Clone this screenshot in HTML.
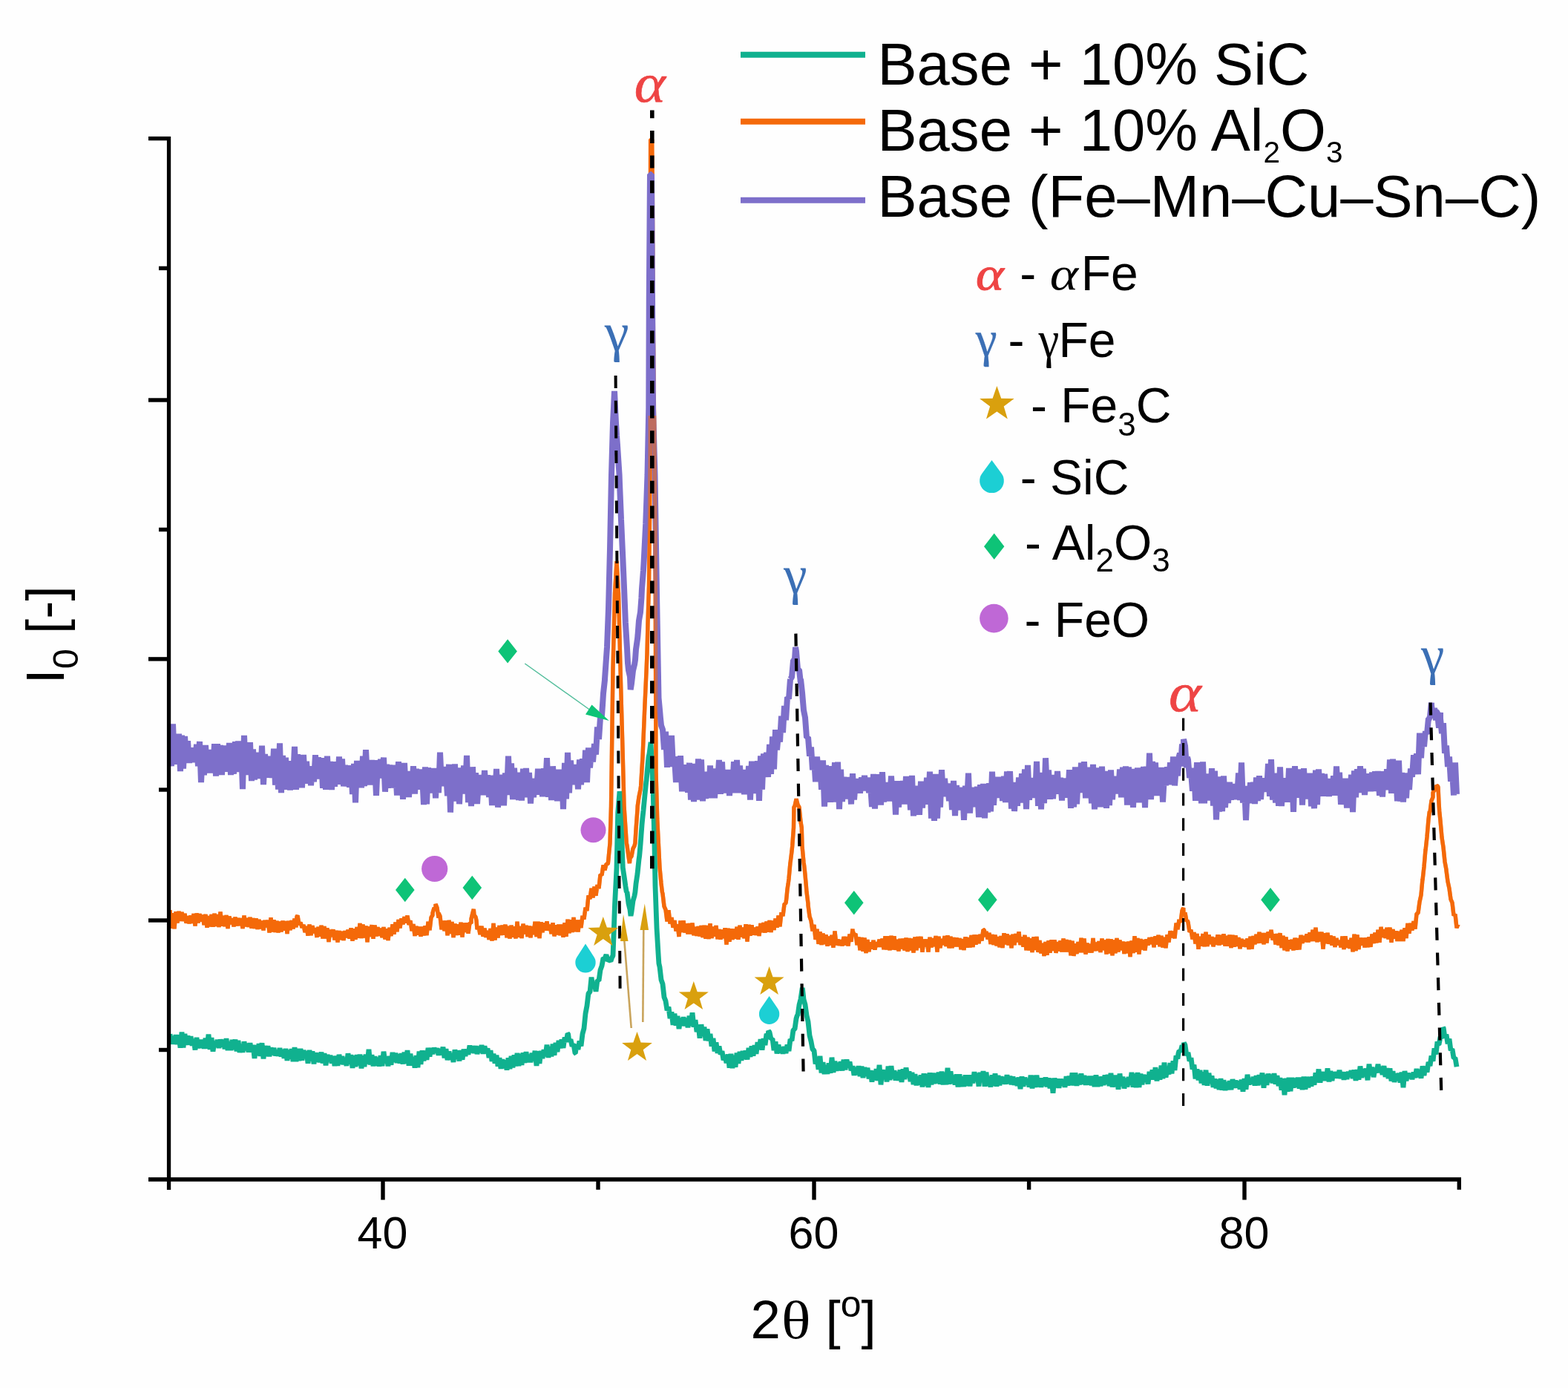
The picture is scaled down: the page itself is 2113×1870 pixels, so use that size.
<!DOCTYPE html>
<html><head><meta charset="utf-8"><title>XRD patterns</title>
<style>html,body{margin:0;padding:0;background:#fefefe;overflow:hidden}svg{display:block}text{font-family:"Liberation Sans",sans-serif;fill:#000}.ser{font-family:"Liberation Serif",serif}</style>
</head><body>
<svg width="2113" height="1870" viewBox="0 0 2113 1870">
<rect width="2113" height="1870" fill="#fefefe"/>
<g fill="none" stroke-linejoin="bevel" stroke-linecap="butt">
<path d="M229.0,1226.1 L231.0,1250.7 L233.0,1230.2 L235.0,1251.2 L237.0,1228.2 L239.0,1243.4 L241.0,1227.9 L243.0,1240.7 L245.0,1229.0 L247.0,1240.9 L249.0,1230.8 L251.0,1243.7 L253.0,1234.4 L255.0,1244.3 L257.0,1233.6 L259.0,1243.6 L261.0,1231.1 L263.0,1247.5 L265.0,1230.5 L267.0,1243.4 L269.0,1231.2 L271.0,1241.3 L273.0,1232.7 L275.0,1246.0 L277.0,1232.0 L279.0,1249.7 L281.0,1234.2 L283.0,1248.4 L285.0,1232.0 L287.0,1248.7 L289.0,1230.9 L291.0,1247.8 L293.0,1232.0 L295.0,1248.9 L297.0,1228.6 L299.0,1247.7 L301.0,1233.8 L303.0,1248.2 L305.0,1233.1 L307.0,1250.9 L309.0,1234.5 L311.0,1245.0 L313.0,1237.3 L315.0,1248.3 L317.0,1235.6 L319.0,1247.2 L321.0,1237.0 L323.0,1246.9 L325.0,1237.2 L327.0,1250.9 L329.0,1233.5 L331.0,1248.2 L333.0,1237.0 L335.0,1248.8 L337.0,1235.9 L339.0,1250.7 L341.0,1237.2 L343.0,1250.8 L345.0,1237.4 L347.0,1251.9 L349.0,1238.9 L351.0,1251.3 L353.0,1240.6 L355.0,1253.4 L357.0,1240.0 L359.0,1249.2 L361.0,1239.7 L363.0,1256.4 L365.0,1236.2 L367.0,1255.4 L369.0,1239.4 L371.0,1256.0 L373.0,1240.9 L375.0,1256.4 L377.0,1241.7 L379.0,1255.3 L381.0,1240.6 L383.0,1253.5 L385.0,1241.1 L387.0,1258.0 L389.0,1240.9 L391.0,1253.0 L393.0,1240.2 L395.0,1251.4 L397.0,1237.6 L399.0,1249.4 L400.0,1235.0 L401.0,1233.4 L403.0,1245.7 L405.0,1242.7 L407.0,1249.7 L409.0,1246.0 L411.0,1256.1 L413.0,1247.8 L415.0,1260.5 L417.0,1245.7 L419.0,1260.0 L421.0,1247.2 L423.0,1257.1 L425.0,1250.3 L427.0,1262.7 L429.0,1248.8 L431.0,1261.5 L433.0,1246.9 L435.0,1264.4 L437.0,1248.2 L439.0,1264.3 L441.0,1250.3 L443.0,1268.9 L445.0,1252.5 L447.0,1262.0 L449.0,1252.3 L451.0,1266.3 L453.0,1253.9 L455.0,1269.3 L457.0,1254.2 L459.0,1266.1 L461.0,1255.0 L463.0,1266.9 L465.0,1254.2 L467.0,1263.2 L469.0,1252.7 L471.0,1264.6 L473.0,1250.3 L475.0,1267.7 L477.0,1251.4 L479.0,1265.6 L481.0,1249.2 L483.0,1263.6 L485.0,1244.0 L487.0,1264.0 L489.0,1245.5 L491.0,1263.5 L493.0,1247.5 L495.0,1269.3 L497.0,1248.2 L499.0,1261.9 L501.0,1246.2 L503.0,1264.6 L505.0,1246.5 L507.0,1261.3 L509.0,1249.1 L511.0,1260.6 L513.0,1250.8 L515.0,1263.1 L517.0,1249.2 L519.0,1265.4 L521.0,1251.3 L523.0,1267.0 L525.0,1249.9 L527.0,1261.0 L529.0,1245.4 L531.0,1258.6 L533.0,1242.7 L535.0,1255.1 L537.0,1239.2 L539.0,1250.4 L541.0,1237.4 L543.0,1245.1 L545.0,1235.3 L547.0,1243.4 L549.0,1233.6 L551.0,1245.7 L553.0,1240.3 L555.0,1254.2 L557.0,1245.1 L559.0,1260.9 L561.0,1248.0 L563.0,1259.4 L565.0,1248.7 L567.0,1261.5 L569.0,1248.6 L571.0,1260.3 L573.0,1247.3 L575.0,1260.0 L577.0,1241.8 L579.0,1253.1 L581.0,1236.1 L583.0,1233.1 L583.0,1230.0 L585.0,1223.3 L587.0,1223.7 L587.0,1218.0 L589.0,1223.0 L591.0,1236.5 L591.0,1230.0 L593.0,1234.4 L595.0,1252.3 L597.0,1240.6 L599.0,1254.2 L601.0,1240.5 L603.0,1260.2 L605.0,1239.9 L607.0,1257.8 L609.0,1241.9 L611.0,1262.9 L613.0,1244.6 L615.0,1260.0 L617.0,1245.3 L619.0,1259.6 L621.0,1242.9 L623.0,1262.4 L625.0,1243.6 L627.0,1255.9 L629.0,1243.3 L631.0,1257.6 L633.0,1243.3 L635.0,1243.9 L635.0,1238.0 L637.0,1229.7 L638.3,1225.0 L639.0,1233.0 L641.0,1235.5 L642.0,1240.0 L643.0,1252.1 L645.0,1248.3 L647.0,1259.1 L649.0,1247.8 L651.0,1261.7 L653.0,1250.8 L655.0,1262.7 L657.0,1253.9 L659.0,1265.8 L661.0,1251.1 L663.0,1267.4 L665.0,1244.0 L667.0,1266.4 L669.0,1249.5 L671.0,1263.4 L673.0,1247.0 L675.0,1259.8 L677.0,1246.6 L679.0,1259.5 L681.0,1245.7 L683.0,1263.1 L685.0,1247.7 L687.0,1264.5 L689.0,1246.7 L691.0,1262.5 L693.0,1248.3 L695.0,1264.3 L697.0,1241.8 L699.0,1262.6 L701.0,1248.2 L703.0,1263.9 L705.0,1244.7 L707.0,1258.4 L709.0,1246.9 L711.0,1262.0 L713.0,1247.5 L715.0,1263.1 L717.0,1248.1 L719.0,1259.0 L721.0,1241.8 L723.0,1261.9 L725.0,1241.7 L727.0,1264.0 L729.0,1242.4 L731.0,1256.2 L733.0,1243.3 L735.0,1253.5 L737.0,1241.5 L739.0,1253.6 L741.0,1245.7 L743.0,1258.0 L745.0,1243.3 L747.0,1261.3 L749.0,1246.3 L751.0,1259.4 L753.0,1245.7 L755.0,1260.2 L757.0,1245.5 L759.0,1262.8 L761.0,1243.3 L763.0,1261.8 L765.0,1238.7 L767.0,1257.2 L769.0,1239.2 L771.0,1255.9 L773.0,1236.0 L775.0,1255.1 L777.0,1239.7 L779.0,1255.4 L781.0,1239.7 L783.0,1250.0 L785.0,1233.8 L787.0,1238.4 L789.0,1222.9 L791.0,1226.9 L793.0,1206.4 L795.0,1211.0 L797.0,1196.8 L799.0,1209.3 L801.0,1194.5 L803.0,1206.7 L805.0,1192.0 L807.0,1196.9 L809.0,1178.2 L811.0,1179.1 L813.0,1165.6 L815.0,1172.3 L817.0,1164.1 L819.0,1163.9 L819.4,1163.0 L821.0,1146.1 L822.0,1136.0 L823.0,1102.8 L823.5,1086.0 L824.4,1020.0 L825.0,975.0 L826.0,900.0 L827.0,860.2 L828.5,800.0 L829.0,791.2 L831.0,756.2 L831.0,756.0 L833.0,791.2 L833.5,800.0 L835.0,860.2 L836.0,900.0 L837.0,936.4 L839.0,1009.3 L839.3,1020.0 L841.0,1085.6 L841.0,1086.0 L843.0,1116.4 L844.3,1136.0 L845.0,1139.2 L847.0,1153.8 L848.4,1163.0 L849.0,1156.4 L851.0,1153.7 L853.0,1143.3 L855.0,1139.4 L855.9,1136.0 L857.0,1117.6 L859.0,1090.6 L859.2,1086.0 L861.0,1073.6 L863.0,1063.7 L863.6,1059.0 L865.0,1035.7 L866.0,1020.0 L867.0,996.3 L868.5,960.0 L869.0,948.7 L871.0,905.1 L871.0,905.0 L872.0,880.0 L873.0,839.0 L873.0,839.0 L874.5,789.0 L875.0,744.5 L875.5,700.0 L876.2,600.0 L876.3,400.0 L876.4,250.0 L876.6,188.0 L877.0,188.0 L878.8,188.0 L879.0,212.8 L879.3,250.0 L880.0,400.0 L881.0,506.7 L881.5,560.0 L883.0,700.0 L883.0,700.0 L883.5,880.0 L884.0,1040.0 L885.0,1077.1 L885.7,1103.0 L887.0,1129.1 L889.0,1168.9 L889.0,1169.0 L891.0,1190.1 L892.4,1202.0 L893.0,1204.1 L895.0,1221.1 L897.0,1225.7 L899.0,1241.5 L901.0,1226.4 L903.0,1244.4 L905.0,1236.1 L907.0,1249.6 L909.0,1240.0 L911.0,1254.4 L913.0,1245.4 L915.0,1261.8 L917.0,1240.4 L919.0,1255.8 L921.0,1240.3 L923.0,1256.5 L925.0,1244.4 L927.0,1258.3 L929.0,1244.1 L931.0,1258.5 L933.0,1243.5 L935.0,1260.1 L937.0,1249.0 L939.0,1260.8 L941.0,1248.2 L943.0,1261.4 L945.0,1247.0 L947.0,1262.9 L949.0,1246.8 L951.0,1264.6 L953.0,1247.1 L955.0,1265.0 L957.0,1244.3 L959.0,1264.0 L961.0,1248.5 L963.0,1261.6 L965.0,1247.1 L967.0,1265.2 L969.0,1252.2 L971.0,1265.6 L973.0,1252.6 L975.0,1264.1 L977.0,1250.3 L979.0,1272.5 L981.0,1250.7 L983.0,1268.6 L985.0,1251.4 L987.0,1266.0 L989.0,1251.7 L991.0,1264.5 L993.0,1248.9 L995.0,1265.7 L997.0,1246.8 L999.0,1262.4 L1001.0,1249.7 L1003.0,1264.1 L1005.0,1245.3 L1007.0,1268.4 L1009.0,1245.9 L1011.0,1260.5 L1013.0,1246.3 L1015.0,1259.5 L1017.0,1249.8 L1019.0,1259.7 L1021.0,1248.5 L1023.0,1260.9 L1025.0,1244.0 L1027.0,1256.0 L1029.0,1243.1 L1031.0,1256.5 L1033.0,1241.5 L1035.0,1255.7 L1037.0,1240.1 L1039.0,1255.8 L1041.0,1240.5 L1043.0,1252.8 L1045.0,1237.5 L1047.0,1249.6 L1049.0,1233.5 L1051.0,1248.3 L1053.0,1229.2 L1055.0,1234.1 L1057.0,1218.2 L1059.0,1216.7 L1059.8,1210.7 L1061.0,1198.1 L1062.4,1188.6 L1063.0,1184.1 L1065.0,1161.9 L1065.1,1162.0 L1067.0,1146.7 L1067.7,1140.0 L1069.0,1121.9 L1069.5,1115.0 L1069.9,1087.6 L1071.0,1085.8 L1073.0,1076.8 L1073.1,1076.5 L1075.0,1084.0 L1077.0,1087.6 L1077.0,1087.6 L1079.0,1107.4 L1080.3,1115.0 L1081.0,1139.9 L1081.0,1140.0 L1083.0,1161.8 L1083.7,1166.5 L1085.0,1178.4 L1086.3,1193.0 L1087.0,1201.7 L1089.0,1217.7 L1089.0,1219.6 L1091.0,1234.8 L1093.0,1240.7 L1095.0,1254.4 L1097.0,1245.9 L1099.0,1265.8 L1101.0,1251.7 L1103.0,1271.8 L1105.0,1255.3 L1107.0,1273.0 L1109.0,1257.7 L1111.0,1272.2 L1113.0,1259.3 L1115.0,1274.6 L1117.0,1261.7 L1119.0,1273.4 L1121.0,1259.9 L1123.0,1276.6 L1125.0,1254.6 L1127.0,1273.3 L1129.0,1265.7 L1131.0,1273.7 L1133.0,1266.3 L1135.0,1274.2 L1137.0,1262.1 L1139.0,1273.2 L1141.0,1262.3 L1143.0,1274.3 L1145.0,1258.7 L1147.0,1268.8 L1149.0,1251.5 L1149.0,1254.0 L1151.0,1259.7 L1153.0,1258.1 L1155.0,1273.1 L1157.0,1262.5 L1159.0,1280.1 L1161.0,1263.1 L1163.0,1281.6 L1165.0,1263.4 L1167.0,1284.0 L1169.0,1266.0 L1171.0,1282.0 L1173.0,1269.5 L1175.0,1278.4 L1177.0,1266.9 L1179.0,1279.5 L1181.0,1269.4 L1183.0,1275.4 L1185.0,1265.9 L1187.0,1275.8 L1189.0,1264.7 L1191.0,1279.2 L1193.0,1261.4 L1195.0,1279.4 L1197.0,1261.4 L1199.0,1280.3 L1201.0,1260.8 L1203.0,1279.5 L1205.0,1261.4 L1207.0,1279.8 L1209.0,1265.9 L1211.0,1281.5 L1213.0,1264.9 L1215.0,1278.4 L1217.0,1264.6 L1219.0,1280.3 L1221.0,1263.6 L1223.0,1281.9 L1225.0,1264.1 L1227.0,1280.4 L1229.0,1264.6 L1231.0,1283.5 L1233.0,1262.6 L1235.0,1280.1 L1237.0,1262.0 L1239.0,1276.8 L1241.0,1261.9 L1243.0,1282.7 L1245.0,1265.5 L1247.0,1275.3 L1249.0,1265.5 L1251.0,1282.4 L1253.0,1262.8 L1255.0,1276.2 L1257.0,1264.2 L1259.0,1275.1 L1261.0,1261.1 L1263.0,1282.4 L1265.0,1261.8 L1267.0,1277.0 L1269.0,1264.9 L1271.0,1273.0 L1273.0,1261.2 L1275.0,1274.8 L1277.0,1260.4 L1279.0,1277.3 L1281.0,1261.8 L1283.0,1277.0 L1285.0,1263.1 L1287.0,1275.4 L1289.0,1263.5 L1291.0,1275.3 L1293.0,1264.1 L1295.0,1279.1 L1297.0,1265.2 L1299.0,1279.9 L1301.0,1262.3 L1303.0,1276.7 L1305.0,1263.1 L1307.0,1276.3 L1309.0,1260.0 L1311.0,1275.9 L1313.0,1259.5 L1315.0,1272.5 L1317.0,1259.7 L1319.0,1271.0 L1321.0,1258.9 L1323.0,1267.3 L1325.0,1252.5 L1326.4,1253.0 L1327.0,1262.0 L1329.0,1254.9 L1331.0,1265.3 L1333.0,1256.8 L1335.0,1271.8 L1337.0,1259.1 L1339.0,1272.9 L1341.0,1259.6 L1343.0,1274.2 L1345.0,1262.1 L1347.0,1276.2 L1349.0,1261.1 L1351.0,1276.9 L1353.0,1257.3 L1355.0,1272.4 L1357.0,1258.4 L1359.0,1273.3 L1361.0,1260.0 L1363.0,1277.2 L1365.0,1258.8 L1367.0,1273.1 L1369.0,1258.2 L1371.0,1269.3 L1373.0,1255.4 L1375.0,1272.9 L1377.0,1262.5 L1379.0,1275.7 L1381.0,1259.9 L1383.0,1280.2 L1385.0,1262.8 L1387.0,1280.4 L1389.0,1264.4 L1391.0,1283.0 L1393.0,1262.2 L1395.0,1280.0 L1397.0,1262.0 L1399.0,1282.8 L1401.0,1267.1 L1403.0,1284.4 L1405.0,1270.7 L1407.0,1288.0 L1409.0,1269.1 L1411.0,1286.6 L1413.0,1267.3 L1415.0,1283.6 L1417.0,1266.4 L1419.0,1280.9 L1421.0,1266.3 L1423.0,1283.8 L1425.0,1269.2 L1427.0,1281.2 L1429.0,1267.4 L1431.0,1282.3 L1433.0,1264.6 L1435.0,1282.5 L1437.0,1266.2 L1439.0,1282.5 L1441.0,1266.8 L1443.0,1287.2 L1445.0,1267.8 L1447.0,1287.8 L1449.0,1271.3 L1451.0,1285.0 L1453.0,1269.0 L1455.0,1283.2 L1457.0,1263.8 L1459.0,1283.1 L1461.0,1264.5 L1463.0,1285.6 L1465.0,1270.6 L1467.0,1283.3 L1469.0,1272.0 L1471.0,1283.5 L1473.0,1264.1 L1475.0,1281.0 L1477.0,1269.6 L1479.0,1280.9 L1481.0,1268.2 L1483.0,1283.0 L1485.0,1264.6 L1487.0,1280.2 L1489.0,1266.5 L1491.0,1285.4 L1493.0,1265.0 L1495.0,1284.4 L1497.0,1265.2 L1499.0,1287.2 L1501.0,1266.6 L1503.0,1284.2 L1505.0,1264.0 L1507.0,1282.5 L1509.0,1266.6 L1511.0,1280.0 L1513.0,1268.5 L1515.0,1285.0 L1517.0,1269.2 L1519.0,1284.1 L1521.0,1268.5 L1523.0,1289.1 L1525.0,1267.5 L1527.0,1283.9 L1529.0,1261.3 L1531.0,1282.6 L1533.0,1263.9 L1535.0,1285.4 L1537.0,1265.0 L1539.0,1279.3 L1541.0,1266.0 L1543.0,1280.3 L1545.0,1265.4 L1547.0,1273.4 L1549.0,1263.3 L1551.0,1271.9 L1553.0,1262.9 L1555.0,1276.1 L1557.0,1261.3 L1559.0,1272.5 L1561.0,1259.8 L1563.0,1275.1 L1565.0,1260.8 L1567.0,1276.3 L1569.0,1263.0 L1571.0,1277.2 L1573.0,1259.2 L1575.0,1269.3 L1577.0,1254.4 L1579.0,1263.1 L1581.0,1254.9 L1583.0,1264.3 L1585.0,1243.7 L1587.0,1252.1 L1589.0,1239.0 L1589.0,1240.0 L1591.0,1242.4 L1593.0,1226.8 L1594.7,1223.0 L1595.0,1231.3 L1597.0,1229.7 L1599.0,1241.3 L1600.0,1240.0 L1601.0,1242.5 L1603.0,1255.6 L1605.0,1253.0 L1607.0,1265.2 L1609.0,1256.1 L1611.0,1271.3 L1613.0,1258.1 L1615.0,1278.8 L1617.0,1261.9 L1619.0,1274.5 L1621.0,1258.2 L1623.0,1275.1 L1625.0,1255.8 L1627.0,1274.9 L1629.0,1259.5 L1631.0,1271.9 L1633.0,1262.2 L1635.0,1275.2 L1637.0,1263.2 L1639.0,1272.6 L1641.0,1259.5 L1643.0,1273.3 L1645.0,1259.8 L1647.0,1272.3 L1649.0,1258.4 L1651.0,1274.5 L1653.0,1261.0 L1655.0,1274.5 L1657.0,1259.5 L1659.0,1276.9 L1661.0,1259.9 L1663.0,1275.7 L1665.0,1260.3 L1667.0,1274.9 L1669.0,1263.1 L1671.0,1278.2 L1673.0,1264.9 L1675.0,1275.2 L1677.0,1266.4 L1679.0,1275.6 L1681.0,1264.6 L1683.0,1279.0 L1685.0,1261.7 L1687.0,1278.4 L1689.0,1261.1 L1691.0,1272.2 L1693.0,1258.9 L1695.0,1270.7 L1697.0,1255.8 L1699.0,1270.4 L1701.0,1257.0 L1703.0,1272.2 L1705.0,1257.1 L1707.0,1270.3 L1709.0,1255.5 L1711.0,1263.0 L1713.0,1253.0 L1715.0,1266.4 L1717.0,1258.4 L1719.0,1272.3 L1721.0,1258.0 L1723.0,1273.3 L1725.0,1257.2 L1727.0,1276.9 L1729.0,1260.9 L1731.0,1280.1 L1733.0,1262.5 L1735.0,1281.4 L1737.0,1266.3 L1739.0,1278.5 L1741.0,1265.9 L1743.0,1280.3 L1745.0,1263.7 L1747.0,1279.6 L1749.0,1264.1 L1751.0,1279.3 L1753.0,1260.0 L1755.0,1270.7 L1757.0,1261.1 L1759.0,1268.7 L1761.0,1258.5 L1763.0,1269.3 L1765.0,1256.3 L1767.0,1268.0 L1769.0,1252.8 L1771.0,1267.8 L1773.0,1249.7 L1775.0,1269.2 L1777.0,1255.9 L1779.0,1268.3 L1781.0,1255.8 L1783.0,1278.5 L1785.0,1257.2 L1787.0,1271.1 L1789.0,1256.8 L1791.0,1271.7 L1793.0,1260.3 L1795.0,1273.5 L1797.0,1261.7 L1799.0,1275.9 L1801.0,1264.1 L1803.0,1273.0 L1805.0,1267.0 L1807.0,1276.1 L1809.0,1261.6 L1811.0,1278.9 L1813.0,1261.4 L1815.0,1276.6 L1817.0,1266.8 L1819.0,1277.7 L1821.0,1263.8 L1823.0,1282.3 L1825.0,1258.7 L1827.0,1281.0 L1829.0,1259.5 L1831.0,1278.9 L1833.0,1263.6 L1835.0,1273.5 L1837.0,1263.7 L1839.0,1276.3 L1841.0,1263.4 L1843.0,1276.0 L1845.0,1262.3 L1847.0,1275.8 L1849.0,1258.5 L1851.0,1270.9 L1853.0,1256.6 L1855.0,1270.3 L1857.0,1252.8 L1859.0,1269.7 L1861.0,1248.9 L1863.0,1262.8 L1865.0,1252.1 L1867.0,1263.8 L1869.0,1249.8 L1871.0,1265.3 L1873.0,1249.7 L1875.0,1269.8 L1877.0,1252.1 L1879.0,1264.5 L1881.0,1254.5 L1883.0,1267.8 L1885.0,1255.0 L1887.0,1267.9 L1889.0,1252.8 L1891.0,1268.0 L1893.0,1250.2 L1895.0,1263.9 L1897.0,1243.9 L1899.0,1257.7 L1901.0,1243.9 L1903.0,1253.4 L1905.0,1241.2 L1907.0,1251.4 L1909.0,1231.0 L1911.0,1230.2 L1913.0,1215.1 L1915.0,1206.0 L1917.0,1184.3 L1917.0,1186.0 L1919.0,1167.7 L1921.0,1144.5 L1921.0,1146.0 L1923.0,1127.5 L1925.0,1104.0 L1926.4,1093.0 L1927.0,1094.2 L1929.0,1078.7 L1931.0,1074.0 L1931.0,1068.0 L1933.0,1063.9 L1935.0,1064.5 L1936.0,1058.0 L1937.0,1058.9 L1938.0,1060.0 L1939.0,1081.8 L1939.7,1093.0 L1941.0,1105.8 L1943.0,1128.2 L1943.7,1132.8 L1945.0,1141.4 L1947.0,1160.9 L1949.0,1171.7 L1949.0,1172.6 L1951.0,1187.8 L1953.0,1197.0 L1955.0,1211.7 L1957.0,1216.1 L1959.0,1233.4 L1961.0,1231.8 L1963.0,1250.1 L1965.0,1245.1" stroke="#f4690a" stroke-width="5.4"/>
<path d="M229.0,997.2 L231.0,1032.2 L233.0,975.3 L235.0,1025.7 L237.0,990.1 L239.0,1029.9 L241.0,988.7 L243.0,1039.1 L245.0,990.6 L247.0,1035.5 L249.0,992.0 L251.0,1021.1 L253.0,998.3 L255.0,1027.9 L257.0,1007.4 L259.0,1026.6 L261.0,1009.0 L263.0,1027.1 L265.0,1002.9 L267.0,1032.3 L269.0,999.1 L271.0,1054.1 L273.0,1013.2 L275.0,1044.2 L277.0,1004.0 L279.0,1040.2 L281.0,1009.9 L283.0,1041.6 L285.0,1010.1 L287.0,1040.5 L289.0,1002.1 L291.0,1045.6 L293.0,1002.2 L295.0,1038.4 L297.0,1003.9 L299.0,1044.0 L301.0,1004.5 L303.0,1039.8 L305.0,1008.3 L307.0,1030.8 L309.0,1001.0 L311.0,1044.0 L313.0,1002.2 L315.0,1042.9 L317.0,999.1 L319.0,1038.4 L321.0,998.5 L323.0,1040.1 L325.0,1006.2 L327.0,1063.1 L329.0,990.8 L331.0,1039.2 L333.0,1001.9 L335.0,1044.1 L337.0,1000.1 L339.0,1052.0 L341.0,1009.5 L343.0,1050.5 L345.0,1013.6 L347.0,1049.1 L349.0,1016.1 L351.0,1049.0 L353.0,1004.7 L355.0,1057.1 L357.0,1016.0 L359.0,1044.1 L361.0,1018.9 L363.0,1047.7 L365.0,1021.5 L367.0,1047.9 L369.0,1008.7 L371.0,1057.7 L373.0,1017.2 L375.0,1063.6 L377.0,1001.3 L379.0,1068.2 L381.0,1018.0 L383.0,1061.5 L385.0,1020.6 L387.0,1063.9 L389.0,1025.7 L391.0,1064.6 L393.0,1025.3 L395.0,1050.4 L397.0,1005.9 L399.0,1063.9 L401.0,1016.2 L403.0,1060.6 L405.0,1017.0 L407.0,1061.4 L409.0,1016.9 L411.0,1055.8 L413.0,1025.9 L415.0,1052.1 L417.0,1035.9 L419.0,1058.1 L421.0,1032.4 L423.0,1053.3 L425.0,1017.3 L427.0,1049.5 L429.0,1020.2 L431.0,1046.6 L433.0,1021.3 L435.0,1061.8 L437.0,1021.1 L439.0,1063.7 L441.0,1018.6 L443.0,1061.7 L445.0,1025.9 L447.0,1064.1 L449.0,1026.4 L451.0,1059.7 L453.0,1026.3 L455.0,1056.5 L457.0,1019.5 L459.0,1056.8 L461.0,1022.5 L463.0,1059.4 L465.0,1030.9 L467.0,1056.4 L469.0,1033.9 L471.0,1060.7 L473.0,1031.2 L475.0,1070.0 L477.0,1028.9 L479.0,1081.3 L481.0,1024.8 L483.0,1060.4 L485.0,1025.8 L487.0,1061.4 L489.0,1018.7 L491.0,1059.2 L493.0,1010.1 L495.0,1048.7 L497.0,1028.2 L499.0,1057.6 L501.0,1024.0 L503.0,1054.5 L505.0,1028.7 L507.0,1071.8 L509.0,1024.1 L511.0,1048.3 L513.0,1022.7 L515.0,1045.7 L517.0,1020.6 L519.0,1066.7 L521.0,1029.8 L523.0,1061.8 L525.0,1030.6 L527.0,1057.7 L529.0,1030.7 L531.0,1061.6 L533.0,1036.4 L535.0,1071.4 L537.0,1026.1 L539.0,1071.0 L541.0,1033.6 L543.0,1076.9 L545.0,1028.0 L547.0,1069.5 L549.0,1039.0 L551.0,1073.9 L553.0,1040.8 L555.0,1063.7 L557.0,1032.2 L559.0,1069.6 L561.0,1035.7 L563.0,1063.3 L565.0,1036.5 L567.0,1063.6 L569.0,1042.8 L571.0,1084.0 L573.0,1033.4 L575.0,1083.3 L577.0,1034.3 L579.0,1068.0 L581.0,1038.2 L583.0,1068.4 L585.0,1035.0 L587.0,1075.3 L589.0,1035.7 L591.0,1068.2 L593.0,1013.6 L595.0,1056.6 L597.0,1033.1 L599.0,1059.1 L601.0,1040.2 L603.0,1072.3 L605.0,1029.8 L607.0,1094.5 L609.0,1031.7 L611.0,1076.6 L613.0,1029.3 L615.0,1079.6 L617.0,1034.3 L619.0,1083.2 L621.0,1038.4 L623.0,1069.4 L625.0,1031.4 L627.0,1063.6 L629.0,1018.0 L631.0,1081.0 L633.0,1044.2 L635.0,1086.1 L637.0,1033.3 L639.0,1077.9 L641.0,1041.3 L643.0,1082.9 L645.0,1051.0 L647.0,1070.4 L649.0,1044.1 L651.0,1071.2 L653.0,1038.1 L655.0,1068.7 L657.0,1044.2 L659.0,1074.0 L661.0,1044.6 L663.0,1085.1 L665.0,1045.0 L667.0,1075.5 L669.0,1035.9 L671.0,1087.7 L673.0,1043.7 L675.0,1077.7 L677.0,1047.6 L679.0,1085.3 L681.0,1041.5 L683.0,1070.9 L685.0,1018.6 L687.0,1069.8 L689.0,1028.4 L691.0,1077.0 L693.0,1034.8 L695.0,1067.1 L697.0,1040.8 L699.0,1078.1 L701.0,1041.4 L703.0,1078.5 L705.0,1035.7 L707.0,1074.4 L709.0,1035.0 L711.0,1072.8 L713.0,1041.0 L715.0,1082.5 L717.0,1052.5 L719.0,1074.2 L721.0,1048.7 L723.0,1067.2 L725.0,1035.7 L727.0,1070.8 L729.0,1044.5 L731.0,1073.3 L733.0,1035.2 L735.0,1058.3 L737.0,1021.1 L739.0,1073.8 L741.0,1034.8 L743.0,1078.1 L745.0,1032.3 L747.0,1068.2 L749.0,1039.9 L751.0,1079.4 L753.0,1036.7 L755.0,1079.3 L757.0,1040.1 L759.0,1090.1 L761.0,1027.9 L763.0,1076.4 L765.0,1013.9 L767.0,1068.3 L769.0,1024.4 L771.0,1057.2 L773.0,1030.5 L775.0,1055.6 L777.0,1029.9 L779.0,1063.3 L781.0,1023.5 L783.0,1057.3 L785.0,1022.3 L787.0,1053.2 L789.0,1010.6 L791.0,1054.0 L793.0,1007.4 L795.0,1034.5 L797.0,1009.8 L799.0,1026.4 L801.0,1002.1 L803.0,1016.6 L805.0,979.4 L807.0,996.1 L809.0,966.4 L811.0,964.2 L812.0,950.0 L813.0,934.3 L815.0,916.1 L815.0,915.0 L817.0,886.2 L818.0,872.0 L819.0,846.4 L820.0,820.0 L821.0,780.0 L822.0,740.0 L823.0,690.4 L824.0,640.0 L825.0,605.0 L826.0,570.0 L827.0,549.4 L828.0,527.0 L829.0,548.5 L830.0,570.0 L831.0,586.7 L832.0,600.0 L833.0,615.4 L834.6,640.0 L835.0,651.3 L837.0,700.0 L837.0,700.0 L839.0,745.0 L839.5,756.0 L841.0,791.4 L842.9,839.0 L843.0,840.8 L845.0,873.2 L846.0,893.0 L847.0,902.8 L849.0,911.7 L849.7,929.0 L851.0,920.9 L853.0,903.5 L855.0,895.4 L856.0,889.0 L857.0,874.8 L859.0,860.8 L859.5,856.0 L861.0,836.1 L863.0,824.8 L864.4,806.0 L865.0,793.2 L867.0,768.3 L867.7,756.0 L869.0,730.0 L870.2,706.0 L871.0,683.3 L872.5,640.0 L873.0,615.0 L874.3,550.0 L874.8,400.0 L875.0,372.6 L876.0,235.0 L877.0,235.0 L878.0,235.0 L879.0,400.1 L879.0,400.0 L880.0,550.0 L881.0,586.0 L882.5,640.0 L883.0,672.2 L885.0,800.0 L885.0,800.0 L887.0,912.6 L887.5,940.0 L889.0,956.3 L890.0,968.0 L891.0,977.5 L893.0,982.8 L895.0,1009.9 L897.0,985.6 L899.0,1033.9 L901.0,994.3 L903.0,1028.3 L905.0,990.9 L907.0,1032.9 L909.0,1021.2 L911.0,1054.0 L913.0,1019.2 L915.0,1053.8 L917.0,1018.2 L919.0,1066.3 L921.0,1034.8 L923.0,1060.5 L925.0,1030.1 L927.0,1067.7 L929.0,1027.8 L931.0,1077.5 L933.0,1029.8 L935.0,1080.1 L937.0,1029.0 L939.0,1069.7 L941.0,1022.4 L943.0,1077.5 L945.0,1023.5 L947.0,1079.4 L949.0,1039.6 L951.0,1076.0 L953.0,1045.0 L955.0,1074.3 L957.0,1031.4 L959.0,1075.4 L961.0,1035.4 L963.0,1075.3 L965.0,1040.1 L967.0,1055.0 L969.0,1024.0 L971.0,1069.7 L973.0,1026.5 L975.0,1068.4 L977.0,1039.8 L979.0,1067.0 L981.0,1037.1 L983.0,1072.1 L985.0,1037.5 L987.0,1062.7 L989.0,1026.1 L991.0,1068.2 L993.0,1024.0 L995.0,1068.2 L997.0,1031.4 L999.0,1064.5 L1001.0,1037.0 L1003.0,1070.2 L1005.0,1043.2 L1007.0,1068.6 L1009.0,1032.0 L1011.0,1077.5 L1013.0,1025.6 L1015.0,1069.1 L1017.0,1033.4 L1019.0,1063.3 L1021.0,1025.3 L1023.0,1078.9 L1025.0,1018.5 L1027.0,1063.7 L1029.0,1015.4 L1031.0,1043.5 L1033.0,1013.7 L1035.0,1046.9 L1037.0,1003.0 L1039.0,1042.8 L1041.0,992.3 L1043.0,1036.3 L1045.0,983.2 L1047.0,1010.4 L1049.0,988.8 L1051.0,999.6 L1053.0,964.7 L1055.0,987.1 L1057.0,951.0 L1059.0,970.2 L1061.0,939.3 L1063.0,941.4 L1065.0,914.8 L1065.0,915.0 L1067.0,912.3 L1069.0,889.9 L1071.0,888.6 L1072.0,872.0 L1073.0,877.8 L1075.0,901.9 L1077.0,902.4 L1079.0,920.6 L1079.0,915.0 L1081.0,933.1 L1083.0,956.9 L1085.0,966.7 L1087.0,993.7 L1089.0,993.4 L1091.0,1018.7 L1093.0,1006.4 L1095.0,1037.3 L1097.0,1021.6 L1099.0,1053.2 L1101.0,1019.6 L1103.0,1044.7 L1105.0,1024.7 L1107.0,1063.8 L1109.0,1024.4 L1111.0,1086.6 L1113.0,1030.9 L1115.0,1066.4 L1117.0,1034.4 L1119.0,1080.9 L1121.0,1032.1 L1123.0,1067.4 L1125.0,1027.3 L1127.0,1080.7 L1129.0,1026.7 L1131.0,1090.2 L1133.0,1036.8 L1135.0,1080.1 L1137.0,1046.7 L1139.0,1076.4 L1141.0,1046.9 L1143.0,1074.4 L1145.0,1052.2 L1147.0,1083.4 L1149.0,1042.3 L1151.0,1077.5 L1153.0,1052.9 L1155.0,1068.2 L1157.0,1049.1 L1159.0,1068.5 L1161.0,1047.4 L1163.0,1065.3 L1165.0,1044.9 L1167.0,1064.3 L1169.0,1047.6 L1171.0,1068.1 L1173.0,1057.4 L1175.0,1087.1 L1177.0,1042.9 L1179.0,1089.5 L1181.0,1043.9 L1183.0,1082.2 L1185.0,1043.3 L1187.0,1084.6 L1189.0,1040.2 L1191.0,1080.5 L1193.0,1059.0 L1195.0,1073.1 L1197.0,1054.1 L1199.0,1079.4 L1201.0,1045.4 L1203.0,1076.7 L1205.0,1057.3 L1207.0,1097.5 L1209.0,1052.3 L1211.0,1087.6 L1213.0,1057.5 L1215.0,1079.1 L1217.0,1052.0 L1219.0,1083.6 L1221.0,1045.9 L1223.0,1074.5 L1225.0,1055.4 L1227.0,1091.2 L1229.0,1044.8 L1231.0,1099.4 L1233.0,1060.9 L1235.0,1090.8 L1237.0,1058.7 L1239.0,1097.7 L1241.0,1052.7 L1243.0,1088.5 L1245.0,1057.3 L1247.0,1083.6 L1249.0,1047.6 L1251.0,1082.4 L1253.0,1039.6 L1255.0,1102.5 L1257.0,1054.8 L1259.0,1105.9 L1261.0,1042.8 L1263.0,1102.5 L1265.0,1055.6 L1267.0,1087.5 L1269.0,1037.1 L1271.0,1073.1 L1273.0,1048.8 L1275.0,1069.7 L1277.0,1056.1 L1279.0,1079.1 L1281.0,1055.6 L1283.0,1090.9 L1285.0,1051.9 L1287.0,1099.1 L1289.0,1058.1 L1291.0,1091.4 L1293.0,1060.8 L1295.0,1086.5 L1297.0,1062.4 L1299.0,1104.9 L1301.0,1058.7 L1303.0,1082.8 L1305.0,1041.7 L1307.0,1095.5 L1309.0,1060.8 L1311.0,1087.2 L1313.0,1061.0 L1315.0,1080.3 L1317.0,1060.0 L1319.0,1101.1 L1321.0,1057.1 L1323.0,1099.5 L1325.0,1056.0 L1327.0,1102.4 L1329.0,1057.7 L1331.0,1094.5 L1333.0,1055.1 L1335.0,1093.3 L1337.0,1039.7 L1339.0,1084.7 L1341.0,1053.4 L1343.0,1074.4 L1345.0,1046.7 L1347.0,1074.9 L1349.0,1050.2 L1351.0,1078.9 L1353.0,1045.7 L1355.0,1081.1 L1357.0,1039.5 L1359.0,1073.8 L1361.0,1039.1 L1363.0,1089.6 L1365.0,1053.9 L1367.0,1092.9 L1369.0,1058.0 L1371.0,1085.8 L1373.0,1047.5 L1375.0,1081.5 L1377.0,1042.2 L1379.0,1074.4 L1381.0,1036.5 L1383.0,1090.2 L1385.0,1030.8 L1387.0,1077.8 L1389.0,1048.1 L1391.0,1074.9 L1393.0,1049.8 L1395.0,1074.2 L1397.0,1025.8 L1399.0,1085.8 L1401.0,1040.8 L1403.0,1090.4 L1405.0,1042.8 L1407.0,1082.2 L1409.0,1021.3 L1411.0,1066.8 L1413.0,1037.4 L1415.0,1076.8 L1417.0,1044.0 L1419.0,1076.3 L1421.0,1049.0 L1423.0,1069.1 L1425.0,1039.0 L1427.0,1069.7 L1429.0,1047.8 L1431.0,1078.4 L1433.0,1048.5 L1435.0,1072.6 L1437.0,1054.1 L1439.0,1074.7 L1441.0,1037.2 L1443.0,1088.9 L1445.0,1040.2 L1447.0,1087.3 L1449.0,1033.3 L1451.0,1083.2 L1453.0,1044.3 L1455.0,1063.8 L1457.0,1027.7 L1459.0,1068.0 L1461.0,1026.2 L1463.0,1075.3 L1465.0,1033.6 L1467.0,1070.8 L1469.0,1038.7 L1471.0,1082.3 L1473.0,1029.9 L1475.0,1090.3 L1477.0,1034.3 L1479.0,1086.9 L1481.0,1035.4 L1483.0,1087.3 L1485.0,1032.6 L1487.0,1083.2 L1489.0,1040.9 L1491.0,1088.8 L1493.0,1038.9 L1495.0,1085.2 L1497.0,1037.4 L1499.0,1077.3 L1501.0,1047.3 L1503.0,1069.5 L1505.0,1045.9 L1507.0,1068.8 L1509.0,1036.5 L1511.0,1074.3 L1513.0,1033.7 L1515.0,1074.1 L1517.0,1032.5 L1519.0,1084.7 L1521.0,1033.5 L1523.0,1084.1 L1525.0,1041.0 L1527.0,1087.9 L1529.0,1036.0 L1531.0,1067.9 L1533.0,1034.4 L1535.0,1081.3 L1537.0,1037.1 L1539.0,1072.9 L1541.0,1033.0 L1543.0,1088.2 L1545.0,1032.7 L1547.0,1070.2 L1549.0,1014.6 L1551.0,1077.2 L1553.0,1025.9 L1555.0,1069.3 L1557.0,1027.4 L1559.0,1071.9 L1561.0,1037.1 L1563.0,1070.4 L1565.0,1033.9 L1567.0,1080.5 L1569.0,1044.5 L1571.0,1058.2 L1573.0,1033.2 L1575.0,1052.2 L1577.0,1027.4 L1579.0,1057.2 L1581.0,1019.4 L1583.0,1058.4 L1585.0,1032.3 L1585.0,1035.0 L1587.0,1045.1 L1589.0,1018.3 L1590.0,1015.0 L1591.0,1032.5 L1593.0,1002.4 L1595.0,1016.7 L1595.0,996.0 L1597.0,1004.8 L1599.0,1034.2 L1600.0,1020.0 L1601.0,1023.5 L1603.0,1047.9 L1605.0,1040.3 L1607.0,1065.6 L1609.0,1034.8 L1611.0,1078.7 L1613.0,1027.2 L1615.0,1070.6 L1617.0,1033.0 L1619.0,1082.3 L1621.0,1026.3 L1623.0,1082.3 L1625.0,1042.5 L1627.0,1078.5 L1629.0,1044.7 L1631.0,1075.9 L1633.0,1035.2 L1635.0,1085.6 L1637.0,1038.6 L1639.0,1104.3 L1641.0,1053.6 L1643.0,1093.7 L1645.0,1046.4 L1647.0,1093.1 L1649.0,1045.5 L1651.0,1087.9 L1653.0,1056.5 L1655.0,1082.0 L1657.0,1053.9 L1659.0,1077.7 L1661.0,1056.0 L1663.0,1077.0 L1665.0,1058.2 L1667.0,1076.7 L1669.0,1041.4 L1671.0,1078.0 L1673.0,1027.4 L1675.0,1081.7 L1677.0,1059.3 L1679.0,1105.1 L1681.0,1058.9 L1683.0,1082.1 L1685.0,1054.3 L1687.0,1081.4 L1689.0,1053.9 L1691.0,1082.9 L1693.0,1047.6 L1695.0,1078.9 L1697.0,1045.3 L1699.0,1076.9 L1701.0,1048.3 L1703.0,1064.3 L1705.0,1051.7 L1707.0,1066.6 L1709.0,1029.0 L1711.0,1072.9 L1713.0,1023.2 L1715.0,1077.7 L1717.0,1041.6 L1719.0,1081.6 L1721.0,1042.7 L1723.0,1085.7 L1725.0,1033.5 L1727.0,1086.1 L1729.0,1048.3 L1731.0,1076.5 L1733.0,1050.0 L1735.0,1080.7 L1737.0,1034.8 L1739.0,1078.1 L1741.0,1040.9 L1743.0,1093.8 L1745.0,1032.1 L1747.0,1074.7 L1749.0,1043.0 L1751.0,1070.7 L1753.0,1036.5 L1755.0,1084.5 L1757.0,1035.2 L1759.0,1073.2 L1761.0,1042.5 L1763.0,1076.5 L1765.0,1041.7 L1767.0,1086.3 L1769.0,1050.6 L1771.0,1089.2 L1773.0,1037.7 L1775.0,1084.1 L1777.0,1036.4 L1779.0,1071.6 L1781.0,1042.1 L1783.0,1072.7 L1785.0,1042.9 L1787.0,1066.7 L1789.0,1049.1 L1791.0,1072.8 L1793.0,1052.1 L1795.0,1071.4 L1797.0,1045.2 L1799.0,1071.6 L1801.0,1032.4 L1803.0,1068.2 L1805.0,1040.7 L1807.0,1083.9 L1809.0,1051.7 L1811.0,1069.8 L1813.0,1048.7 L1815.0,1088.6 L1817.0,1048.6 L1819.0,1079.9 L1821.0,1043.7 L1823.0,1094.0 L1825.0,1038.4 L1827.0,1074.4 L1829.0,1036.2 L1831.0,1061.3 L1833.0,1032.3 L1835.0,1067.9 L1837.0,1035.8 L1839.0,1070.9 L1841.0,1045.9 L1843.0,1065.6 L1845.0,1042.3 L1847.0,1066.1 L1849.0,1040.6 L1851.0,1065.9 L1853.0,1039.2 L1855.0,1061.2 L1857.0,1039.0 L1859.0,1071.7 L1861.0,1041.7 L1863.0,1073.4 L1865.0,1039.2 L1867.0,1062.4 L1869.0,1036.2 L1871.0,1064.3 L1873.0,1023.4 L1875.0,1068.9 L1877.0,1022.7 L1879.0,1068.3 L1881.0,1041.1 L1883.0,1079.2 L1885.0,1024.6 L1887.0,1079.7 L1889.0,1041.0 L1891.0,1080.5 L1893.0,1041.5 L1895.0,1075.3 L1897.0,1042.3 L1899.0,1063.9 L1901.0,1035.5 L1903.0,1046.8 L1905.0,1017.2 L1907.0,1041.9 L1909.0,1015.4 L1911.0,1043.2 L1913.0,987.6 L1915.0,1021.3 L1917.0,990.2 L1919.0,1006.0 L1920.0,995.0 L1921.0,985.2 L1923.0,988.9 L1925.0,967.5 L1925.0,970.0 L1927.0,965.6 L1929.0,946.7 L1929.0,950.0 L1931.0,967.2 L1933.0,954.0 L1935.0,970.3 L1935.0,958.0 L1937.0,960.3 L1939.0,980.6 L1941.0,960.0 L1941.0,968.0 L1943.0,988.0 L1945.0,974.3 L1947.0,1014.8 L1949.0,1004.6 L1951.0,1032.9 L1953.0,1019.4 L1955.0,1052.8 L1957.0,1037.4 L1959.0,1071.4 L1961.0,1027.4 L1963.0,1069.9" stroke="#7d6fca" stroke-width="8"/>
<path d="M229.0,1393.2 L231.0,1406.5 L233.0,1396.0 L235.0,1406.7 L237.0,1394.2 L239.0,1407.1 L241.0,1394.3 L243.0,1411.7 L245.0,1390.5 L247.0,1411.5 L249.0,1392.9 L251.0,1407.7 L253.0,1395.6 L255.0,1407.4 L257.0,1396.2 L259.0,1408.7 L261.0,1400.4 L263.0,1414.4 L265.0,1398.0 L267.0,1412.2 L269.0,1400.9 L271.0,1411.6 L273.0,1400.9 L275.0,1412.8 L277.0,1398.6 L279.0,1412.4 L281.0,1393.7 L283.0,1413.8 L285.0,1398.2 L287.0,1416.6 L289.0,1403.2 L291.0,1409.5 L293.0,1401.1 L295.0,1411.8 L297.0,1400.5 L299.0,1410.4 L301.0,1400.9 L303.0,1413.3 L305.0,1399.2 L307.0,1415.0 L309.0,1403.7 L311.0,1414.9 L313.0,1400.9 L315.0,1413.9 L317.0,1400.6 L319.0,1416.2 L321.0,1401.8 L323.0,1417.8 L325.0,1407.6 L327.0,1417.7 L329.0,1403.4 L331.0,1415.0 L333.0,1405.9 L335.0,1417.5 L337.0,1405.4 L339.0,1417.5 L341.0,1407.9 L343.0,1425.9 L345.0,1408.1 L347.0,1421.9 L349.0,1406.1 L351.0,1422.8 L353.0,1405.2 L355.0,1426.4 L357.0,1409.1 L359.0,1422.9 L361.0,1409.2 L363.0,1423.2 L365.0,1411.5 L367.0,1421.1 L369.0,1412.0 L371.0,1422.2 L373.0,1415.9 L375.0,1422.4 L377.0,1412.1 L379.0,1423.5 L381.0,1414.1 L383.0,1425.6 L385.0,1413.0 L387.0,1428.8 L389.0,1414.8 L391.0,1426.5 L393.0,1413.2 L395.0,1430.0 L397.0,1411.2 L399.0,1430.1 L401.0,1412.9 L403.0,1429.2 L405.0,1413.0 L407.0,1428.5 L409.0,1415.0 L411.0,1424.2 L413.0,1416.2 L415.0,1432.5 L417.0,1415.0 L419.0,1429.1 L421.0,1416.5 L423.0,1433.4 L425.0,1418.4 L427.0,1430.7 L429.0,1418.8 L431.0,1431.3 L433.0,1417.6 L435.0,1432.4 L437.0,1419.1 L439.0,1435.3 L441.0,1421.2 L443.0,1429.0 L445.0,1421.8 L447.0,1432.5 L449.0,1422.9 L451.0,1436.0 L453.0,1422.8 L455.0,1435.7 L457.0,1420.9 L459.0,1433.6 L461.0,1423.0 L463.0,1434.1 L465.0,1425.0 L467.0,1435.8 L469.0,1419.3 L471.0,1433.4 L473.0,1421.2 L475.0,1438.9 L477.0,1422.3 L479.0,1437.1 L481.0,1421.2 L483.0,1435.3 L485.0,1420.6 L487.0,1439.4 L489.0,1422.3 L491.0,1437.0 L493.0,1420.7 L495.0,1433.2 L497.0,1413.8 L499.0,1434.5 L501.0,1421.1 L503.0,1436.3 L505.0,1423.2 L507.0,1435.6 L509.0,1424.9 L511.0,1436.5 L513.0,1422.3 L515.0,1436.2 L517.0,1416.8 L519.0,1432.0 L521.0,1423.5 L523.0,1436.2 L525.0,1422.9 L527.0,1434.6 L529.0,1418.0 L531.0,1430.7 L533.0,1418.7 L535.0,1432.0 L537.0,1420.2 L539.0,1432.4 L541.0,1419.3 L543.0,1433.4 L545.0,1417.7 L547.0,1432.8 L549.0,1415.1 L551.0,1435.6 L553.0,1419.7 L555.0,1435.5 L557.0,1424.1 L559.0,1438.6 L561.0,1422.2 L563.0,1438.2 L565.0,1416.5 L567.0,1433.9 L569.0,1415.4 L571.0,1429.2 L573.0,1415.7 L575.0,1427.8 L577.0,1411.8 L579.0,1423.4 L581.0,1412.0 L583.0,1420.0 L585.0,1411.8 L587.0,1417.5 L589.0,1412.4 L591.0,1421.4 L593.0,1413.2 L595.0,1420.9 L597.0,1410.6 L599.0,1425.3 L601.0,1413.2 L603.0,1428.1 L605.0,1416.6 L607.0,1427.2 L609.0,1420.1 L611.0,1430.8 L613.0,1414.4 L615.0,1426.7 L617.0,1415.6 L619.0,1429.4 L621.0,1415.2 L623.0,1427.6 L625.0,1413.7 L627.0,1422.8 L629.0,1414.1 L631.0,1420.6 L633.0,1408.6 L635.0,1418.0 L637.0,1409.5 L639.0,1418.8 L641.0,1409.3 L643.0,1420.0 L645.0,1410.0 L647.0,1417.9 L649.0,1408.2 L651.0,1419.6 L653.0,1409.5 L655.0,1418.9 L657.0,1412.5 L659.0,1425.0 L661.0,1415.3 L663.0,1429.9 L665.0,1419.7 L667.0,1432.6 L669.0,1421.6 L671.0,1436.5 L673.0,1425.3 L675.0,1439.7 L677.0,1427.3 L679.0,1439.1 L681.0,1428.5 L683.0,1441.5 L685.0,1425.5 L687.0,1440.1 L689.0,1422.9 L691.0,1438.4 L693.0,1421.3 L695.0,1436.3 L697.0,1418.9 L699.0,1436.2 L701.0,1419.9 L703.0,1434.9 L705.0,1418.5 L707.0,1431.9 L709.0,1417.3 L711.0,1431.1 L713.0,1420.8 L715.0,1431.2 L717.0,1418.7 L719.0,1429.1 L721.0,1415.8 L723.0,1436.0 L725.0,1416.3 L727.0,1432.8 L729.0,1415.9 L731.0,1426.0 L733.0,1414.3 L735.0,1423.1 L737.0,1407.6 L739.0,1424.9 L741.0,1410.1 L743.0,1423.3 L745.0,1406.7 L747.0,1421.7 L749.0,1404.8 L751.0,1417.1 L753.0,1401.9 L755.0,1412.1 L757.0,1400.6 L758.0,1405.0 L759.0,1411.9 L761.0,1397.6 L763.0,1403.7 L765.0,1392.5 L765.6,1393.0 L767.0,1403.4 L769.0,1400.6 L770.0,1405.0 L771.0,1409.5 L773.0,1406.6 L775.0,1418.9 L775.3,1419.0 L777.0,1407.2 L779.0,1413.8 L781.0,1402.5 L783.0,1409.3 L785.0,1392.8 L787.0,1385.5 L789.0,1365.5 L791.0,1355.0 L793.0,1338.1 L795.0,1336.5 L797.0,1316.6 L799.0,1331.0 L801.0,1323.6 L803.0,1335.8 L805.0,1320.6 L807.0,1321.2 L809.0,1306.9 L811.0,1301.3 L813.0,1290.6 L815.0,1291.3 L817.0,1286.4 L819.0,1294.5 L821.0,1293.2 L823.0,1294.9 L825.0,1289.0 L826.0,1288.0 L827.0,1260.7 L828.5,1219.0 L829.0,1209.0 L831.0,1169.4 L831.0,1169.0 L832.7,1095.0 L833.0,1091.2 L835.0,1066.5 L835.0,1066.0 L837.0,1109.2 L837.5,1120.0 L839.0,1162.0 L839.3,1169.0 L841.0,1180.2 L843.0,1194.2 L844.3,1202.0 L845.0,1201.6 L847.0,1217.2 L849.0,1225.6 L850.0,1234.0 L851.0,1228.6 L853.0,1213.9 L855.0,1206.9 L855.9,1202.0 L857.0,1190.8 L859.0,1177.3 L861.0,1157.9 L861.7,1153.0 L863.0,1138.4 L865.0,1111.8 L865.8,1103.0 L867.0,1092.0 L869.0,1071.0 L870.8,1053.0 L871.0,1052.5 L873.0,1030.3 L874.0,1020.0 L875.0,1015.5 L877.0,1000.0 L877.0,1000.0 L879.0,1040.4 L880.0,1060.0 L881.0,1100.0 L882.0,1140.0 L883.0,1194.3 L883.0,1194.0 L885.0,1249.6 L885.0,1250.0 L887.0,1284.0 L887.9,1298.0 L889.0,1302.7 L891.0,1320.0 L893.0,1325.6 L895.0,1343.5 L897.0,1348.5 L899.0,1361.2 L901.0,1356.7 L903.0,1372.1 L905.0,1363.3 L907.0,1380.9 L909.0,1365.7 L911.0,1381.7 L913.0,1368.8 L915.0,1386.0 L917.0,1371.6 L919.0,1381.9 L921.0,1370.2 L923.0,1382.1 L925.0,1371.8 L927.0,1384.3 L929.0,1368.7 L931.0,1381.9 L933.0,1364.3 L935.0,1383.6 L937.0,1374.2 L939.0,1390.2 L941.0,1380.7 L943.0,1398.7 L945.0,1380.3 L947.0,1395.9 L949.0,1383.5 L951.0,1402.0 L953.0,1386.5 L955.0,1402.4 L957.0,1392.9 L959.0,1409.7 L961.0,1399.0 L963.0,1416.4 L965.0,1404.6 L967.0,1418.7 L969.0,1409.6 L971.0,1420.4 L973.0,1416.3 L975.0,1428.2 L977.0,1422.3 L979.0,1432.2 L981.0,1420.5 L983.0,1438.6 L985.0,1419.9 L987.0,1439.1 L989.0,1422.0 L991.0,1437.7 L993.0,1418.7 L995.0,1432.9 L997.0,1416.8 L999.0,1428.7 L1001.0,1416.0 L1003.0,1427.0 L1005.0,1415.7 L1007.0,1427.3 L1009.0,1412.0 L1011.0,1423.9 L1013.0,1409.5 L1015.0,1422.5 L1017.0,1408.3 L1019.0,1419.7 L1021.0,1404.3 L1023.0,1413.5 L1025.0,1400.3 L1027.0,1414.5 L1029.0,1399.3 L1031.0,1408.0 L1033.0,1393.0 L1035.0,1395.8 L1035.6,1389.0 L1037.0,1390.7 L1039.0,1399.9 L1041.0,1399.3 L1043.0,1415.2 L1045.0,1403.4 L1047.0,1419.4 L1049.0,1407.5 L1051.0,1418.4 L1053.0,1410.9 L1055.0,1419.5 L1057.0,1410.1 L1059.0,1419.0 L1061.0,1407.7 L1063.0,1416.0 L1065.0,1400.2 L1067.0,1402.1 L1069.0,1387.6 L1071.0,1386.4 L1073.0,1372.3 L1074.5,1367.4 L1075.0,1368.3 L1077.0,1353.9 L1079.0,1346.1 L1081.0,1332.5 L1081.3,1331.0 L1083.0,1346.3 L1085.0,1353.5 L1087.0,1368.0 L1089.0,1376.6 L1091.0,1395.0 L1093.0,1403.1 L1095.0,1413.8 L1097.0,1415.1 L1099.0,1433.4 L1101.0,1426.1 L1103.0,1440.7 L1105.0,1422.8 L1107.0,1445.4 L1109.0,1431.1 L1111.0,1447.0 L1113.0,1435.3 L1115.0,1446.9 L1117.0,1432.4 L1119.0,1445.8 L1121.0,1424.7 L1123.0,1444.8 L1125.0,1429.8 L1127.0,1442.5 L1129.0,1432.0 L1131.0,1442.0 L1133.0,1430.4 L1135.0,1442.4 L1137.0,1427.6 L1139.0,1441.2 L1141.0,1427.6 L1143.0,1438.0 L1145.0,1430.5 L1147.0,1442.3 L1149.0,1436.2 L1151.0,1448.6 L1153.0,1438.1 L1155.0,1447.9 L1157.0,1436.3 L1159.0,1450.0 L1161.0,1436.6 L1163.0,1452.1 L1165.0,1438.0 L1167.0,1449.6 L1169.0,1438.7 L1171.0,1453.4 L1173.0,1442.3 L1175.0,1457.5 L1177.0,1442.8 L1179.0,1455.1 L1181.0,1440.3 L1183.0,1455.8 L1185.0,1434.7 L1187.0,1461.3 L1189.0,1441.3 L1191.0,1451.2 L1193.0,1441.6 L1195.0,1457.3 L1197.0,1436.6 L1199.0,1455.2 L1201.0,1436.1 L1203.0,1453.2 L1205.0,1442.3 L1207.0,1455.4 L1209.0,1444.1 L1211.0,1455.7 L1213.0,1441.6 L1215.0,1457.8 L1217.0,1440.5 L1219.0,1454.0 L1221.0,1438.5 L1223.0,1451.3 L1225.0,1443.5 L1227.0,1457.1 L1229.0,1444.9 L1231.0,1461.1 L1233.0,1447.2 L1235.0,1462.3 L1237.0,1450.2 L1239.0,1461.5 L1241.0,1448.4 L1243.0,1464.4 L1245.0,1446.5 L1247.0,1462.8 L1249.0,1446.8 L1251.0,1464.9 L1253.0,1445.4 L1255.0,1461.2 L1257.0,1445.7 L1259.0,1460.0 L1261.0,1446.1 L1263.0,1459.3 L1265.0,1444.7 L1267.0,1460.6 L1269.0,1443.7 L1271.0,1461.4 L1273.0,1445.0 L1275.0,1461.3 L1277.0,1438.7 L1279.0,1460.6 L1281.0,1443.5 L1283.0,1459.7 L1285.0,1448.9 L1287.0,1461.5 L1289.0,1447.4 L1291.0,1464.3 L1293.0,1447.3 L1295.0,1463.9 L1297.0,1450.5 L1299.0,1463.9 L1301.0,1448.5 L1303.0,1462.8 L1305.0,1448.5 L1307.0,1463.2 L1309.0,1448.4 L1311.0,1459.3 L1313.0,1444.2 L1315.0,1456.7 L1317.0,1446.0 L1319.0,1463.5 L1321.0,1444.8 L1323.0,1457.6 L1325.0,1443.2 L1327.0,1463.6 L1329.0,1444.6 L1331.0,1462.9 L1333.0,1450.5 L1335.0,1464.4 L1337.0,1448.4 L1339.0,1462.7 L1341.0,1446.5 L1343.0,1463.6 L1345.0,1448.9 L1347.0,1462.3 L1349.0,1450.4 L1351.0,1460.1 L1353.0,1451.3 L1355.0,1460.5 L1357.0,1448.3 L1359.0,1459.8 L1361.0,1449.8 L1363.0,1461.2 L1365.0,1450.5 L1367.0,1461.7 L1369.0,1452.3 L1371.0,1462.9 L1373.0,1451.7 L1375.0,1467.1 L1377.0,1450.4 L1379.0,1463.8 L1381.0,1451.8 L1383.0,1460.8 L1385.0,1453.3 L1387.0,1464.5 L1389.0,1448.6 L1391.0,1466.4 L1393.0,1448.9 L1395.0,1464.9 L1397.0,1448.7 L1399.0,1464.2 L1401.0,1452.5 L1403.0,1464.8 L1405.0,1452.5 L1407.0,1462.8 L1409.0,1451.5 L1411.0,1464.2 L1413.0,1452.5 L1415.0,1466.2 L1417.0,1452.8 L1419.0,1472.6 L1421.0,1452.5 L1423.0,1465.3 L1425.0,1453.6 L1427.0,1465.8 L1429.0,1453.7 L1431.0,1462.5 L1433.0,1454.2 L1435.0,1464.7 L1437.0,1450.3 L1439.0,1462.5 L1441.0,1449.8 L1443.0,1462.0 L1445.0,1445.5 L1447.0,1462.4 L1449.0,1445.4 L1451.0,1462.8 L1453.0,1448.0 L1455.0,1461.4 L1457.0,1446.5 L1459.0,1460.5 L1461.0,1449.0 L1463.0,1461.8 L1465.0,1450.1 L1467.0,1461.4 L1469.0,1449.7 L1471.0,1462.2 L1473.0,1449.8 L1475.0,1464.1 L1477.0,1448.5 L1479.0,1463.9 L1481.0,1450.8 L1483.0,1463.2 L1485.0,1450.5 L1487.0,1461.9 L1489.0,1448.6 L1491.0,1460.7 L1493.0,1448.0 L1495.0,1463.0 L1497.0,1445.8 L1499.0,1464.5 L1501.0,1448.6 L1503.0,1464.1 L1505.0,1448.7 L1507.0,1467.7 L1509.0,1446.5 L1511.0,1463.3 L1513.0,1450.6 L1515.0,1466.4 L1517.0,1452.7 L1519.0,1464.3 L1521.0,1451.0 L1523.0,1461.5 L1525.0,1444.9 L1527.0,1464.7 L1529.0,1446.6 L1531.0,1465.2 L1533.0,1445.2 L1535.0,1464.8 L1537.0,1446.6 L1539.0,1461.2 L1541.0,1447.9 L1543.0,1457.4 L1545.0,1448.7 L1547.0,1460.3 L1549.0,1443.8 L1551.0,1454.4 L1553.0,1441.5 L1555.0,1454.5 L1557.0,1438.1 L1559.0,1456.4 L1561.0,1440.7 L1563.0,1454.6 L1565.0,1435.5 L1567.0,1453.1 L1569.0,1431.6 L1571.0,1451.5 L1573.0,1440.2 L1575.0,1447.3 L1577.0,1432.2 L1579.0,1446.3 L1581.0,1429.3 L1583.0,1441.9 L1585.0,1422.3 L1587.0,1426.3 L1588.0,1419.0 L1589.0,1415.8 L1591.0,1416.5 L1593.0,1408.7 L1595.0,1411.4 L1595.4,1405.0 L1597.0,1407.9 L1599.0,1422.1 L1601.0,1418.1 L1603.0,1429.5 L1605.0,1425.3 L1607.0,1440.5 L1609.0,1434.5 L1611.0,1453.3 L1613.0,1440.4 L1615.0,1455.3 L1617.0,1441.9 L1619.0,1459.3 L1621.0,1444.4 L1623.0,1461.9 L1625.0,1441.7 L1627.0,1462.7 L1629.0,1445.8 L1631.0,1459.3 L1633.0,1449.4 L1635.0,1464.7 L1637.0,1453.6 L1639.0,1466.2 L1641.0,1454.4 L1643.0,1467.9 L1645.0,1453.1 L1647.0,1468.5 L1649.0,1455.3 L1651.0,1469.0 L1653.0,1458.0 L1655.0,1468.0 L1657.0,1456.4 L1659.0,1468.1 L1661.0,1454.2 L1663.0,1465.5 L1665.0,1455.8 L1667.0,1465.3 L1669.0,1456.5 L1671.0,1467.5 L1673.0,1454.8 L1675.0,1470.6 L1677.0,1453.2 L1679.0,1467.6 L1681.0,1447.8 L1683.0,1461.3 L1685.0,1453.2 L1687.0,1460.2 L1689.0,1450.9 L1691.0,1462.5 L1693.0,1449.2 L1695.0,1462.2 L1697.0,1448.2 L1699.0,1460.9 L1701.0,1445.5 L1703.0,1465.7 L1705.0,1447.8 L1707.0,1461.8 L1709.0,1446.7 L1711.0,1457.7 L1713.0,1447.9 L1715.0,1459.1 L1717.0,1446.3 L1719.0,1460.4 L1721.0,1449.2 L1723.0,1463.1 L1725.0,1452.2 L1727.0,1468.6 L1729.0,1453.4 L1731.0,1475.1 L1733.0,1452.9 L1735.0,1470.6 L1737.0,1451.8 L1739.0,1470.1 L1741.0,1451.9 L1743.0,1465.6 L1745.0,1452.8 L1747.0,1464.8 L1749.0,1451.8 L1751.0,1466.5 L1753.0,1451.6 L1755.0,1468.0 L1757.0,1450.7 L1759.0,1467.5 L1761.0,1450.8 L1763.0,1465.3 L1765.0,1450.9 L1767.0,1463.5 L1769.0,1450.4 L1771.0,1461.7 L1773.0,1445.5 L1775.0,1458.2 L1777.0,1440.5 L1779.0,1458.6 L1781.0,1444.0 L1783.0,1455.9 L1785.0,1444.4 L1787.0,1455.9 L1789.0,1439.5 L1791.0,1457.3 L1793.0,1442.9 L1795.0,1455.9 L1797.0,1444.2 L1799.0,1452.2 L1801.0,1444.2 L1803.0,1452.5 L1805.0,1441.8 L1807.0,1453.0 L1809.0,1444.5 L1811.0,1454.6 L1813.0,1444.7 L1815.0,1453.7 L1817.0,1444.0 L1819.0,1450.4 L1821.0,1442.4 L1823.0,1452.8 L1825.0,1441.7 L1827.0,1455.9 L1829.0,1441.1 L1831.0,1454.6 L1833.0,1436.5 L1835.0,1451.9 L1837.0,1440.3 L1839.0,1450.2 L1841.0,1439.6 L1843.0,1455.2 L1845.0,1433.6 L1847.0,1448.6 L1849.0,1437.8 L1851.0,1451.1 L1853.0,1439.8 L1855.0,1445.1 L1857.0,1433.9 L1859.0,1445.0 L1861.0,1437.0 L1863.0,1447.8 L1865.0,1436.1 L1867.0,1450.8 L1869.0,1439.3 L1871.0,1453.1 L1873.0,1439.5 L1875.0,1456.4 L1877.0,1443.1 L1879.0,1457.8 L1881.0,1446.5 L1883.0,1455.7 L1885.0,1446.0 L1887.0,1458.5 L1889.0,1444.7 L1891.0,1465.1 L1893.0,1443.0 L1895.0,1456.1 L1897.0,1446.0 L1899.0,1452.5 L1901.0,1446.4 L1903.0,1453.9 L1905.0,1444.8 L1907.0,1451.8 L1909.0,1440.2 L1911.0,1451.1 L1913.0,1441.2 L1915.0,1452.7 L1917.0,1436.4 L1919.0,1449.0 L1921.0,1436.7 L1923.0,1444.4 L1925.0,1430.9 L1927.0,1436.0 L1929.0,1422.5 L1931.0,1429.6 L1933.0,1412.5 L1935.0,1420.3 L1937.0,1403.4 L1937.9,1407.0 L1939.0,1407.3 L1941.0,1397.0 L1943.0,1398.6 L1945.0,1384.8 L1945.2,1385.0 L1947.0,1397.9 L1949.0,1393.7 L1951.0,1406.1 L1953.0,1399.6 L1955.0,1415.1 L1957.0,1413.2 L1959.0,1425.5 L1961.0,1425.3 L1963.0,1437.2" stroke="#10b18f" stroke-width="6.8"/>
<path d="M229.0,1226.1 L231.0,1250.7 L233.0,1230.2 L235.0,1251.2 L237.0,1228.2 L239.0,1243.4 L241.0,1227.9 L243.0,1240.7 L245.0,1229.0 L247.0,1240.9 L249.0,1230.8 L251.0,1243.7 L253.0,1234.4 L255.0,1244.3 L257.0,1233.6 L259.0,1243.6 L261.0,1231.1 L263.0,1247.5 L265.0,1230.5 L267.0,1243.4 L269.0,1231.2 L271.0,1241.3 L273.0,1232.7 L275.0,1246.0 L277.0,1232.0 L279.0,1249.7 L281.0,1234.2 L283.0,1248.4 L285.0,1232.0 L287.0,1248.7 L289.0,1230.9 L291.0,1247.8 L293.0,1232.0 L295.0,1248.9 L297.0,1228.6 L299.0,1247.7 L301.0,1233.8 L303.0,1248.2 L305.0,1233.1 L307.0,1250.9 L309.0,1234.5 L311.0,1245.0 L313.0,1237.3 L315.0,1248.3 L317.0,1235.6 L319.0,1247.2 L321.0,1237.0 L323.0,1246.9 L325.0,1237.2 L327.0,1250.9 L329.0,1233.5 L331.0,1248.2 L333.0,1237.0 L335.0,1248.8 L337.0,1235.9 L339.0,1250.7 L341.0,1237.2 L343.0,1250.8 L345.0,1237.4 L347.0,1251.9 L349.0,1238.9 L351.0,1251.3 L353.0,1240.6 L355.0,1253.4 L357.0,1240.0 L359.0,1249.2 L361.0,1239.7 L363.0,1256.4 L365.0,1236.2 L367.0,1255.4 L369.0,1239.4 L371.0,1256.0 L373.0,1240.9 L375.0,1256.4 L377.0,1241.7 L379.0,1255.3 L381.0,1240.6 L383.0,1253.5 L385.0,1241.1 L387.0,1258.0 L389.0,1240.9 L391.0,1253.0 L393.0,1240.2 L395.0,1251.4 L397.0,1237.6 L399.0,1249.4 L400.0,1235.0 L401.0,1233.4 L403.0,1245.7 L405.0,1242.7 L407.0,1249.7 L409.0,1246.0 L411.0,1256.1 L413.0,1247.8 L415.0,1260.5 L417.0,1245.7 L419.0,1260.0 L421.0,1247.2 L423.0,1257.1 L425.0,1250.3 L427.0,1262.7 L429.0,1248.8 L431.0,1261.5 L433.0,1246.9 L435.0,1264.4 L437.0,1248.2 L439.0,1264.3 L441.0,1250.3 L443.0,1268.9 L445.0,1252.5 L447.0,1262.0 L449.0,1252.3 L451.0,1266.3 L453.0,1253.9 L455.0,1269.3 L457.0,1254.2 L459.0,1266.1 L461.0,1255.0 L463.0,1266.9 L465.0,1254.2 L467.0,1263.2 L469.0,1252.7 L471.0,1264.6 L473.0,1250.3 L475.0,1267.7 L477.0,1251.4 L479.0,1265.6 L481.0,1249.2 L483.0,1263.6 L485.0,1244.0 L487.0,1264.0 L489.0,1245.5 L491.0,1263.5 L493.0,1247.5 L495.0,1269.3 L497.0,1248.2 L499.0,1261.9 L501.0,1246.2 L503.0,1264.6 L505.0,1246.5 L507.0,1261.3 L509.0,1249.1 L511.0,1260.6 L513.0,1250.8 L515.0,1263.1 L517.0,1249.2 L519.0,1265.4 L521.0,1251.3 L523.0,1267.0 L525.0,1249.9 L527.0,1261.0 L529.0,1245.4 L531.0,1258.6 L533.0,1242.7 L535.0,1255.1 L537.0,1239.2 L539.0,1250.4 L541.0,1237.4 L543.0,1245.1 L545.0,1235.3 L547.0,1243.4 L549.0,1233.6 L551.0,1245.7 L553.0,1240.3 L555.0,1254.2 L557.0,1245.1 L559.0,1260.9 L561.0,1248.0 L563.0,1259.4 L565.0,1248.7 L567.0,1261.5 L569.0,1248.6 L571.0,1260.3 L573.0,1247.3 L575.0,1260.0 L577.0,1241.8 L579.0,1253.1 L581.0,1236.1 L583.0,1233.1 L583.0,1230.0 L585.0,1223.3 L587.0,1223.7 L587.0,1218.0 L589.0,1223.0 L591.0,1236.5 L591.0,1230.0 L593.0,1234.4 L595.0,1252.3 L597.0,1240.6 L599.0,1254.2 L601.0,1240.5 L603.0,1260.2 L605.0,1239.9 L607.0,1257.8 L609.0,1241.9 L611.0,1262.9 L613.0,1244.6 L615.0,1260.0 L617.0,1245.3 L619.0,1259.6 L621.0,1242.9 L623.0,1262.4 L625.0,1243.6 L627.0,1255.9 L629.0,1243.3 L631.0,1257.6 L633.0,1243.3 L635.0,1243.9 L635.0,1238.0 L637.0,1229.7 L638.3,1225.0 L639.0,1233.0 L641.0,1235.5 L642.0,1240.0 L643.0,1252.1 L645.0,1248.3 L647.0,1259.1 L649.0,1247.8 L651.0,1261.7 L653.0,1250.8 L655.0,1262.7 L657.0,1253.9 L659.0,1265.8 L661.0,1251.1 L663.0,1267.4 L665.0,1244.0 L667.0,1266.4 L669.0,1249.5 L671.0,1263.4 L673.0,1247.0 L675.0,1259.8 L677.0,1246.6 L679.0,1259.5 L681.0,1245.7 L683.0,1263.1 L685.0,1247.7 L687.0,1264.5 L689.0,1246.7 L691.0,1262.5 L693.0,1248.3 L695.0,1264.3 L697.0,1241.8 L699.0,1262.6 L701.0,1248.2 L703.0,1263.9 L705.0,1244.7 L707.0,1258.4 L709.0,1246.9 L711.0,1262.0 L713.0,1247.5 L715.0,1263.1 L717.0,1248.1 L719.0,1259.0 L721.0,1241.8 L723.0,1261.9 L725.0,1241.7 L727.0,1264.0 L729.0,1242.4 L731.0,1256.2 L733.0,1243.3 L735.0,1253.5 L737.0,1241.5 L739.0,1253.6 L741.0,1245.7 L743.0,1258.0 L745.0,1243.3 L747.0,1261.3 L749.0,1246.3 L751.0,1259.4 L753.0,1245.7 L755.0,1260.2 L757.0,1245.5 L759.0,1262.8 L761.0,1243.3 L763.0,1261.8 L765.0,1238.7 L767.0,1257.2 L769.0,1239.2 L771.0,1255.9 L773.0,1236.0 L775.0,1255.1 L777.0,1239.7 L779.0,1255.4 L781.0,1239.7 L783.0,1250.0 L785.0,1233.8 L787.0,1238.4 L789.0,1222.9 L791.0,1226.9 L793.0,1206.4 L795.0,1211.0 L797.0,1196.8 L799.0,1209.3 L801.0,1194.5 L803.0,1206.7 L805.0,1192.0 L807.0,1196.9 L809.0,1178.2 L811.0,1179.1 L813.0,1165.6 L815.0,1172.3 L817.0,1164.1 L819.0,1163.9 L819.4,1163.0 L821.0,1146.1 L822.0,1136.0 L823.0,1102.8 L823.5,1086.0 L824.4,1020.0 L825.0,975.0 L826.0,900.0 L827.0,860.2 L828.5,800.0 L829.0,791.2 L831.0,756.2 L831.0,756.0 L833.0,791.2 L833.5,800.0 L835.0,860.2 L836.0,900.0 L837.0,936.4 L839.0,1009.3 L839.3,1020.0 L841.0,1085.6 L841.0,1086.0 L843.0,1116.4 L844.3,1136.0 L845.0,1139.2 L847.0,1153.8 L848.4,1163.0 L849.0,1156.4 L851.0,1153.7 L853.0,1143.3 L855.0,1139.4 L855.9,1136.0 L857.0,1117.6 L859.0,1090.6 L859.2,1086.0 L861.0,1073.6 L863.0,1063.7 L863.6,1059.0 L865.0,1035.7 L866.0,1020.0 L867.0,996.3 L868.5,960.0 L869.0,948.7 L871.0,905.1 L871.0,905.0 L872.0,880.0 L873.0,839.0 L873.0,839.0 L874.5,789.0 L875.0,744.5 L875.5,700.0 L876.2,600.0 L876.3,400.0 L876.4,250.0 L876.6,188.0 L877.0,188.0 L878.8,188.0 L879.0,212.8 L879.3,250.0 L880.0,400.0 L881.0,506.7 L881.5,560.0 L883.0,700.0 L883.0,700.0 L883.5,880.0 L884.0,1040.0 L885.0,1077.1 L885.7,1103.0 L887.0,1129.1 L889.0,1168.9 L889.0,1169.0 L891.0,1190.1 L892.4,1202.0 L893.0,1204.1 L895.0,1221.1 L897.0,1225.7 L899.0,1241.5 L901.0,1226.4 L903.0,1244.4 L905.0,1236.1 L907.0,1249.6 L909.0,1240.0 L911.0,1254.4 L913.0,1245.4 L915.0,1261.8 L917.0,1240.4 L919.0,1255.8 L921.0,1240.3 L923.0,1256.5 L925.0,1244.4 L927.0,1258.3 L929.0,1244.1 L931.0,1258.5 L933.0,1243.5 L935.0,1260.1 L937.0,1249.0 L939.0,1260.8 L941.0,1248.2 L943.0,1261.4 L945.0,1247.0 L947.0,1262.9 L949.0,1246.8 L951.0,1264.6 L953.0,1247.1 L955.0,1265.0 L957.0,1244.3 L959.0,1264.0 L961.0,1248.5 L963.0,1261.6 L965.0,1247.1 L967.0,1265.2 L969.0,1252.2 L971.0,1265.6 L973.0,1252.6 L975.0,1264.1 L977.0,1250.3 L979.0,1272.5 L981.0,1250.7 L983.0,1268.6 L985.0,1251.4 L987.0,1266.0 L989.0,1251.7 L991.0,1264.5 L993.0,1248.9 L995.0,1265.7 L997.0,1246.8 L999.0,1262.4 L1001.0,1249.7 L1003.0,1264.1 L1005.0,1245.3 L1007.0,1268.4 L1009.0,1245.9 L1011.0,1260.5 L1013.0,1246.3 L1015.0,1259.5 L1017.0,1249.8 L1019.0,1259.7 L1021.0,1248.5 L1023.0,1260.9 L1025.0,1244.0 L1027.0,1256.0 L1029.0,1243.1 L1031.0,1256.5 L1033.0,1241.5 L1035.0,1255.7 L1037.0,1240.1 L1039.0,1255.8 L1041.0,1240.5 L1043.0,1252.8 L1045.0,1237.5 L1047.0,1249.6 L1049.0,1233.5 L1051.0,1248.3 L1053.0,1229.2 L1055.0,1234.1 L1057.0,1218.2 L1059.0,1216.7 L1059.8,1210.7 L1061.0,1198.1 L1062.4,1188.6 L1063.0,1184.1 L1065.0,1161.9 L1065.1,1162.0 L1067.0,1146.7 L1067.7,1140.0 L1069.0,1121.9 L1069.5,1115.0 L1069.9,1087.6 L1071.0,1085.8 L1073.0,1076.8 L1073.1,1076.5 L1075.0,1084.0 L1077.0,1087.6 L1077.0,1087.6 L1079.0,1107.4 L1080.3,1115.0 L1081.0,1139.9 L1081.0,1140.0 L1083.0,1161.8 L1083.7,1166.5 L1085.0,1178.4 L1086.3,1193.0 L1087.0,1201.7 L1089.0,1217.7 L1089.0,1219.6 L1091.0,1234.8 L1093.0,1240.7 L1095.0,1254.4 L1097.0,1245.9 L1099.0,1265.8 L1101.0,1251.7 L1103.0,1271.8 L1105.0,1255.3 L1107.0,1273.0 L1109.0,1257.7 L1111.0,1272.2 L1113.0,1259.3 L1115.0,1274.6 L1117.0,1261.7 L1119.0,1273.4 L1121.0,1259.9 L1123.0,1276.6 L1125.0,1254.6 L1127.0,1273.3 L1129.0,1265.7 L1131.0,1273.7 L1133.0,1266.3 L1135.0,1274.2 L1137.0,1262.1 L1139.0,1273.2 L1141.0,1262.3 L1143.0,1274.3 L1145.0,1258.7 L1147.0,1268.8 L1149.0,1251.5 L1149.0,1254.0 L1151.0,1259.7 L1153.0,1258.1 L1155.0,1273.1 L1157.0,1262.5 L1159.0,1280.1 L1161.0,1263.1 L1163.0,1281.6 L1165.0,1263.4 L1167.0,1284.0 L1169.0,1266.0 L1171.0,1282.0 L1173.0,1269.5 L1175.0,1278.4 L1177.0,1266.9 L1179.0,1279.5 L1181.0,1269.4 L1183.0,1275.4 L1185.0,1265.9 L1187.0,1275.8 L1189.0,1264.7 L1191.0,1279.2 L1193.0,1261.4 L1195.0,1279.4 L1197.0,1261.4 L1199.0,1280.3 L1201.0,1260.8 L1203.0,1279.5 L1205.0,1261.4 L1207.0,1279.8 L1209.0,1265.9 L1211.0,1281.5 L1213.0,1264.9 L1215.0,1278.4 L1217.0,1264.6 L1219.0,1280.3 L1221.0,1263.6 L1223.0,1281.9 L1225.0,1264.1 L1227.0,1280.4 L1229.0,1264.6 L1231.0,1283.5 L1233.0,1262.6 L1235.0,1280.1 L1237.0,1262.0 L1239.0,1276.8 L1241.0,1261.9 L1243.0,1282.7 L1245.0,1265.5 L1247.0,1275.3 L1249.0,1265.5 L1251.0,1282.4 L1253.0,1262.8 L1255.0,1276.2 L1257.0,1264.2 L1259.0,1275.1 L1261.0,1261.1 L1263.0,1282.4 L1265.0,1261.8 L1267.0,1277.0 L1269.0,1264.9 L1271.0,1273.0 L1273.0,1261.2 L1275.0,1274.8 L1277.0,1260.4 L1279.0,1277.3 L1281.0,1261.8 L1283.0,1277.0 L1285.0,1263.1 L1287.0,1275.4 L1289.0,1263.5 L1291.0,1275.3 L1293.0,1264.1 L1295.0,1279.1 L1297.0,1265.2 L1299.0,1279.9 L1301.0,1262.3 L1303.0,1276.7 L1305.0,1263.1 L1307.0,1276.3 L1309.0,1260.0 L1311.0,1275.9 L1313.0,1259.5 L1315.0,1272.5 L1317.0,1259.7 L1319.0,1271.0 L1321.0,1258.9 L1323.0,1267.3 L1325.0,1252.5 L1326.4,1253.0 L1327.0,1262.0 L1329.0,1254.9 L1331.0,1265.3 L1333.0,1256.8 L1335.0,1271.8 L1337.0,1259.1 L1339.0,1272.9 L1341.0,1259.6 L1343.0,1274.2 L1345.0,1262.1 L1347.0,1276.2 L1349.0,1261.1 L1351.0,1276.9 L1353.0,1257.3 L1355.0,1272.4 L1357.0,1258.4 L1359.0,1273.3 L1361.0,1260.0 L1363.0,1277.2 L1365.0,1258.8 L1367.0,1273.1 L1369.0,1258.2 L1371.0,1269.3 L1373.0,1255.4 L1375.0,1272.9 L1377.0,1262.5 L1379.0,1275.7 L1381.0,1259.9 L1383.0,1280.2 L1385.0,1262.8 L1387.0,1280.4 L1389.0,1264.4 L1391.0,1283.0 L1393.0,1262.2 L1395.0,1280.0 L1397.0,1262.0 L1399.0,1282.8 L1401.0,1267.1 L1403.0,1284.4 L1405.0,1270.7 L1407.0,1288.0 L1409.0,1269.1 L1411.0,1286.6 L1413.0,1267.3 L1415.0,1283.6 L1417.0,1266.4 L1419.0,1280.9 L1421.0,1266.3 L1423.0,1283.8 L1425.0,1269.2 L1427.0,1281.2 L1429.0,1267.4 L1431.0,1282.3 L1433.0,1264.6 L1435.0,1282.5 L1437.0,1266.2 L1439.0,1282.5 L1441.0,1266.8 L1443.0,1287.2 L1445.0,1267.8 L1447.0,1287.8 L1449.0,1271.3 L1451.0,1285.0 L1453.0,1269.0 L1455.0,1283.2 L1457.0,1263.8 L1459.0,1283.1 L1461.0,1264.5 L1463.0,1285.6 L1465.0,1270.6 L1467.0,1283.3 L1469.0,1272.0 L1471.0,1283.5 L1473.0,1264.1 L1475.0,1281.0 L1477.0,1269.6 L1479.0,1280.9 L1481.0,1268.2 L1483.0,1283.0 L1485.0,1264.6 L1487.0,1280.2 L1489.0,1266.5 L1491.0,1285.4 L1493.0,1265.0 L1495.0,1284.4 L1497.0,1265.2 L1499.0,1287.2 L1501.0,1266.6 L1503.0,1284.2 L1505.0,1264.0 L1507.0,1282.5 L1509.0,1266.6 L1511.0,1280.0 L1513.0,1268.5 L1515.0,1285.0 L1517.0,1269.2 L1519.0,1284.1 L1521.0,1268.5 L1523.0,1289.1 L1525.0,1267.5 L1527.0,1283.9 L1529.0,1261.3 L1531.0,1282.6 L1533.0,1263.9 L1535.0,1285.4 L1537.0,1265.0 L1539.0,1279.3 L1541.0,1266.0 L1543.0,1280.3 L1545.0,1265.4 L1547.0,1273.4 L1549.0,1263.3 L1551.0,1271.9 L1553.0,1262.9 L1555.0,1276.1 L1557.0,1261.3 L1559.0,1272.5 L1561.0,1259.8 L1563.0,1275.1 L1565.0,1260.8 L1567.0,1276.3 L1569.0,1263.0 L1571.0,1277.2 L1573.0,1259.2 L1575.0,1269.3 L1577.0,1254.4 L1579.0,1263.1 L1581.0,1254.9 L1583.0,1264.3 L1585.0,1243.7 L1587.0,1252.1 L1589.0,1239.0 L1589.0,1240.0 L1591.0,1242.4 L1593.0,1226.8 L1594.7,1223.0 L1595.0,1231.3 L1597.0,1229.7 L1599.0,1241.3 L1600.0,1240.0 L1601.0,1242.5 L1603.0,1255.6 L1605.0,1253.0 L1607.0,1265.2 L1609.0,1256.1 L1611.0,1271.3 L1613.0,1258.1 L1615.0,1278.8 L1617.0,1261.9 L1619.0,1274.5 L1621.0,1258.2 L1623.0,1275.1 L1625.0,1255.8 L1627.0,1274.9 L1629.0,1259.5 L1631.0,1271.9 L1633.0,1262.2 L1635.0,1275.2 L1637.0,1263.2 L1639.0,1272.6 L1641.0,1259.5 L1643.0,1273.3 L1645.0,1259.8 L1647.0,1272.3 L1649.0,1258.4 L1651.0,1274.5 L1653.0,1261.0 L1655.0,1274.5 L1657.0,1259.5 L1659.0,1276.9 L1661.0,1259.9 L1663.0,1275.7 L1665.0,1260.3 L1667.0,1274.9 L1669.0,1263.1 L1671.0,1278.2 L1673.0,1264.9 L1675.0,1275.2 L1677.0,1266.4 L1679.0,1275.6 L1681.0,1264.6 L1683.0,1279.0 L1685.0,1261.7 L1687.0,1278.4 L1689.0,1261.1 L1691.0,1272.2 L1693.0,1258.9 L1695.0,1270.7 L1697.0,1255.8 L1699.0,1270.4 L1701.0,1257.0 L1703.0,1272.2 L1705.0,1257.1 L1707.0,1270.3 L1709.0,1255.5 L1711.0,1263.0 L1713.0,1253.0 L1715.0,1266.4 L1717.0,1258.4 L1719.0,1272.3 L1721.0,1258.0 L1723.0,1273.3 L1725.0,1257.2 L1727.0,1276.9 L1729.0,1260.9 L1731.0,1280.1 L1733.0,1262.5 L1735.0,1281.4 L1737.0,1266.3 L1739.0,1278.5 L1741.0,1265.9 L1743.0,1280.3 L1745.0,1263.7 L1747.0,1279.6 L1749.0,1264.1 L1751.0,1279.3 L1753.0,1260.0 L1755.0,1270.7 L1757.0,1261.1 L1759.0,1268.7 L1761.0,1258.5 L1763.0,1269.3 L1765.0,1256.3 L1767.0,1268.0 L1769.0,1252.8 L1771.0,1267.8 L1773.0,1249.7 L1775.0,1269.2 L1777.0,1255.9 L1779.0,1268.3 L1781.0,1255.8 L1783.0,1278.5 L1785.0,1257.2 L1787.0,1271.1 L1789.0,1256.8 L1791.0,1271.7 L1793.0,1260.3 L1795.0,1273.5 L1797.0,1261.7 L1799.0,1275.9 L1801.0,1264.1 L1803.0,1273.0 L1805.0,1267.0 L1807.0,1276.1 L1809.0,1261.6 L1811.0,1278.9 L1813.0,1261.4 L1815.0,1276.6 L1817.0,1266.8 L1819.0,1277.7 L1821.0,1263.8 L1823.0,1282.3 L1825.0,1258.7 L1827.0,1281.0 L1829.0,1259.5 L1831.0,1278.9 L1833.0,1263.6 L1835.0,1273.5 L1837.0,1263.7 L1839.0,1276.3 L1841.0,1263.4 L1843.0,1276.0 L1845.0,1262.3 L1847.0,1275.8 L1849.0,1258.5 L1851.0,1270.9 L1853.0,1256.6 L1855.0,1270.3 L1857.0,1252.8 L1859.0,1269.7 L1861.0,1248.9 L1863.0,1262.8 L1865.0,1252.1 L1867.0,1263.8 L1869.0,1249.8 L1871.0,1265.3 L1873.0,1249.7 L1875.0,1269.8 L1877.0,1252.1 L1879.0,1264.5 L1881.0,1254.5 L1883.0,1267.8 L1885.0,1255.0 L1887.0,1267.9 L1889.0,1252.8 L1891.0,1268.0 L1893.0,1250.2 L1895.0,1263.9 L1897.0,1243.9 L1899.0,1257.7 L1901.0,1243.9 L1903.0,1253.4 L1905.0,1241.2 L1907.0,1251.4 L1909.0,1231.0 L1911.0,1230.2 L1913.0,1215.1 L1915.0,1206.0 L1917.0,1184.3 L1917.0,1186.0 L1919.0,1167.7 L1921.0,1144.5 L1921.0,1146.0 L1923.0,1127.5 L1925.0,1104.0 L1926.4,1093.0 L1927.0,1094.2 L1929.0,1078.7 L1931.0,1074.0 L1931.0,1068.0 L1933.0,1063.9 L1935.0,1064.5 L1936.0,1058.0 L1937.0,1058.9 L1938.0,1060.0 L1939.0,1081.8 L1939.7,1093.0 L1941.0,1105.8 L1943.0,1128.2 L1943.7,1132.8 L1945.0,1141.4 L1947.0,1160.9 L1949.0,1171.7 L1949.0,1172.6 L1951.0,1187.8 L1953.0,1197.0 L1955.0,1211.7 L1957.0,1216.1 L1959.0,1233.4 L1961.0,1231.8 L1963.0,1250.1 L1965.0,1245.1" stroke="#f4690a" stroke-width="5.4" opacity="0.55" clip-path="url(#oclip)"/>
</g>
<defs><clipPath id="oclip"><rect x="0" y="560" width="2113" height="1300"/></clipPath></defs>
<line x1="878.8" y1="148.5" x2="878.8" y2="1171" stroke="#000" stroke-width="5.6" stroke-dasharray="17.0 16.700000000000003" stroke-dashoffset="6.30"/>
<line x1="829.6" y1="506" x2="835.6" y2="1332" stroke="#000" stroke-width="4.0" stroke-dasharray="17.0 16.700000000000003" stroke-dashoffset="0.00"/>
<line x1="1072.4" y1="853.6" x2="1082.6" y2="1444.6" stroke="#000" stroke-width="4.2" stroke-dasharray="17.0 16.700000000000003" stroke-dashoffset="0.00"/>
<line x1="1594.6" y1="967.4" x2="1594.6" y2="1490.4" stroke="#000" stroke-width="3.2" stroke-dasharray="17.0 16.700000000000003" stroke-dashoffset="0.00"/>
<line x1="1927.6" y1="946.6" x2="1942.3" y2="1472" stroke="#000" stroke-width="4.2" stroke-dasharray="17.0 16.700000000000003" stroke-dashoffset="0.00"/>
<line x1="707.3" y1="894" x2="800" y2="960" stroke="#52bd9b" stroke-width="1.5"/>
<polygon points="820.8,971 797.5,949.5 789,962.5" fill="#0ec377"/>
<line x1="841.2" y1="1266" x2="850.7" y2="1385" stroke="#c9a45c" stroke-width="2.6"/>
<polygon points="840,1232 846.5,1268 836,1268" fill="#d9a00e"/>
<line x1="867.3" y1="1250" x2="866.3" y2="1377" stroke="#c9a45c" stroke-width="2.6"/>
<polygon points="868.8,1217.5 874,1253 862.5,1253" fill="#d9a00e"/>
<polygon points="684.1,861.1999999999999 696.9,877.4 684.1,893.6 671.3000000000001,877.4" fill="#0ec377"/>
<polygon points="545.8,1182.8 558.5999999999999,1199 545.8,1215.2 533.0,1199" fill="#0ec377"/>
<polygon points="636.3,1179.8 649.0999999999999,1196 636.3,1212.2 623.5,1196" fill="#0ec377"/>
<polygon points="1150.8,1200.1 1163.6,1216.3 1150.8,1232.5 1138.0,1216.3" fill="#0ec377"/>
<polygon points="1330.8,1196.0 1343.6,1212.2 1330.8,1228.4 1318.0,1212.2" fill="#0ec377"/>
<polygon points="1712,1196.0 1724.8,1212.2 1712,1228.4 1699.2,1212.2" fill="#0ec377"/>
<circle cx="585.7" cy="1170.5" r="17.6" fill="#bf68d6"/>
<circle cx="799.5" cy="1118.2" r="17.0" fill="#bf68d6"/>
<polygon points="812.8,1235.0 817.9,1249.5 833.2,1249.9 821.0,1259.2 825.4,1273.9 812.8,1265.1 800.2,1273.9 804.6,1259.2 792.4,1249.9 807.7,1249.5" fill="#d9a00e"/>
<polygon points="858.5,1390.0 863.6,1404.5 878.9,1404.9 866.7,1414.2 871.1,1428.9 858.5,1420.1 845.9,1428.9 850.3,1414.2 838.1,1404.9 853.4,1404.5" fill="#d9a00e"/>
<polygon points="934.8,1322.0 939.7,1336.2 954.8,1336.5 942.8,1345.6 947.1,1360.0 934.8,1351.4 922.5,1360.0 926.8,1345.6 914.8,1336.5 929.9,1336.2" fill="#d9a00e"/>
<polygon points="1036.6,1302.0 1041.5,1316.2 1056.6,1316.5 1044.6,1325.6 1048.9,1340.0 1036.6,1331.4 1024.3,1340.0 1028.6,1325.6 1016.6,1316.5 1031.7,1316.2" fill="#d9a00e"/>
<path d="M789,1271.4 L800.6,1289.5 A13.7,13.7 0 1 1 777.4,1289.5 Z" fill="#1ccfd4"/>
<path d="M1036.6,1341.9 L1047.9,1358.6 A13.7,13.7 0 1 1 1025.3,1358.6 Z" fill="#1ccfd4"/>
<g fill="#000">
<rect x="224.9" y="184" width="5.3" height="1419"/>
<rect x="200" y="1586.2" width="1769" height="5.6"/>
<rect x="200" y="183.9" width="30" height="5.4"/>
<rect x="214" y="358.7" width="16" height="5.4"/>
<rect x="200" y="536.3" width="30" height="5.4"/>
<rect x="214" y="710.8" width="16" height="5.4"/>
<rect x="200" y="885.2" width="30" height="5.4"/>
<rect x="214" y="1061.3" width="16" height="5.4"/>
<rect x="200" y="1237.3" width="30" height="5.4"/>
<rect x="214" y="1411.8" width="16" height="5.4"/>
<rect x="513.3" y="1589" width="5.4" height="27.5"/>
<rect x="1094.3" y="1589" width="5.4" height="27.5"/>
<rect x="1674.3" y="1589" width="5.4" height="27.5"/>
<rect x="803.3" y="1589" width="5.4" height="13.8"/>
<rect x="1383.8999999999999" y="1589" width="5.4" height="13.8"/>
<rect x="1963.6" y="1589" width="5.4" height="13.8"/>
</g>
<text x="515.5" y="1682" font-size="61" text-anchor="middle">40</text>
<text x="1096.5" y="1682" font-size="61" text-anchor="middle">60</text>
<text x="1676.5" y="1682" font-size="61" text-anchor="middle">80</text>
<text y="1803" font-size="72.6"><tspan x="1011.4">2</tspan></text>
<text class="ser" transform="translate(1052.9,1803) scale(1.14,1)" font-size="72.4">θ</text>
<text y="1803" font-size="72.6"><tspan x="1112.6">[</tspan></text>
<text x="1132.8" y="1774" font-size="50">o</text>
<text x="1160.6" y="1803" font-size="72.6">]</text>
<text transform="translate(86,921.5) rotate(-90)" font-size="72.6">I<tspan font-size="49" dy="19">0</tspan><tspan dy="-19"> [-]</tspan></text>
<line x1="998" y1="73.7" x2="1166" y2="73.7" stroke="#10b18f" stroke-width="8"/>
<line x1="998" y1="163.8" x2="1166" y2="163.8" stroke="#f4690a" stroke-width="8"/>
<line x1="998" y1="269.8" x2="1166" y2="269.8" stroke="#7d6fca" stroke-width="8"/>
<text x="1182.5" y="113.9" font-size="79.6">Base + 10% SiC</text>
<text x="1182.5" y="202.6" font-size="79.6">Base + 10% Al<tspan font-size="40.5" dy="16.5">2</tspan><tspan dy="-16.5">O</tspan><tspan font-size="40.5" dy="16.5">3</tspan></text>
<text x="1182.5" y="291.5" font-size="79.6">Base (Fe–Mn–Cu–Sn–C)</text>
<text class="ser" transform="translate(1315.0,390.2) scale(1.151,1)" font-size="62.7" font-style="italic" style="fill:#ee4444;stroke:#ee4444;stroke-width:0.9">α</text>
<text x="1374.3" y="390.8" font-size="66">-</text>
<text class="ser" transform="translate(1414.8,390.3) scale(1.167,1)" font-size="62.5" font-style="italic" style="fill:#000">α</text>
<text x="1456.7" y="390.8" font-size="66">Fe</text>
<text class="ser" transform="translate(1314.8,480.2) scale(0.954,1)" font-size="68.4" style="fill:#3b6fb5;stroke:#3b6fb5;stroke-width:0.3">γ</text>
<text x="1358.6" y="480.5" font-size="66">-</text>
<text class="ser" transform="translate(1399.5,480.5) scale(0.9,1)" font-size="70" style="fill:#000">γ</text>
<text x="1426.4" y="480.5" font-size="66">Fe</text>
<polygon points="1343.4,520.1 1349.2,536.7 1366.7,537.0 1352.7,547.6 1357.8,564.4 1343.4,554.4 1329.0,564.4 1334.1,547.6 1320.1,537.0 1337.6,536.7" fill="#d9a00e"/>
<text x="1388.9" y="568.5" font-size="66">- Fe<tspan font-size="44" dy="18.6">3</tspan><tspan dy="-18.6">C</tspan></text>
<path d="M1336.5,620.1 L1349.7,638.1 A16.35,16.35 0 1 1 1323.3,638.1 Z" fill="#1ccfd4"/>
<text x="1374.7" y="665.5" font-size="66">- SiC</text>
<polygon points="1339.7,718.6 1353.4,736.2 1339.7,753.8000000000001 1326.0,736.2" fill="#0ec377"/>
<text x="1381.1" y="753.8" font-size="66">- Al<tspan font-size="44" dy="16.4">2</tspan><tspan dy="-16.4">O</tspan><tspan font-size="44" dy="16.4">3</tspan></text>
<circle cx="1339.4" cy="833.1" r="19.3" fill="#bf68d6"/>
<text x="1380.5" y="857.5" font-size="66">- FeO</text>
<text class="ser" transform="translate(854.8,137.0) scale(1.093,1)" font-size="73.5" font-style="italic" style="fill:#ee4444;stroke:#ee4444;stroke-width:0.6">α</text>
<text class="ser" transform="translate(1574.9,958.2) scale(1.129,1)" font-size="74.0" font-style="italic" style="fill:#ee4444;stroke:#ee4444;stroke-width:0.6">α</text>
<text class="ser" transform="translate(814.7,471.5) scale(1.01,1)" font-size="73.6" style="fill:#3b6fb5">γ</text>
<text class="ser" transform="translate(1056,798.8) scale(0.969,1)" font-size="73.7" style="fill:#3b6fb5">γ</text>
<text class="ser" transform="translate(1915,907.3) scale(0.957,1)" font-size="74.2" style="fill:#3b6fb5">γ</text>
</svg>
</body></html>
